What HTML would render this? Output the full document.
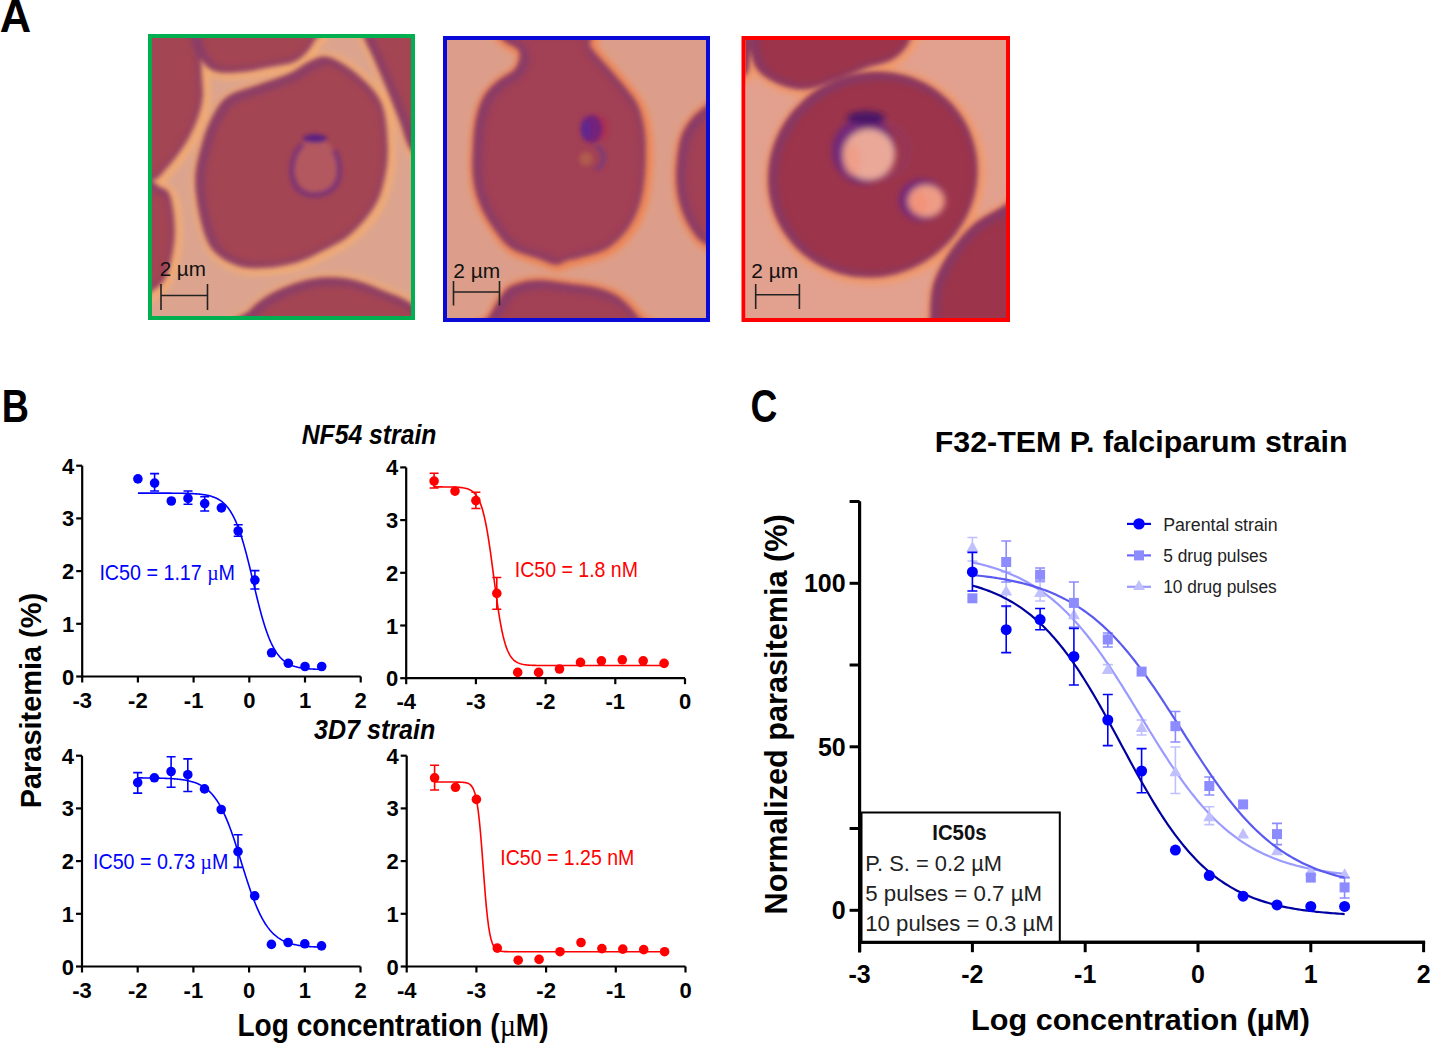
<!DOCTYPE html>
<html><head><meta charset="utf-8"><style>
html,body{margin:0;padding:0;background:#fff;}
body{width:1430px;height:1043px;overflow:hidden;}
svg{display:block;font-family:"Liberation Sans", sans-serif;}
</style></head><body>
<svg width="1430" height="1043" viewBox="0 0 1430 1043">
<defs>
<filter id="bl2" x="-20%" y="-20%" width="140%" height="140%"><feGaussianBlur stdDeviation="2"/></filter>
<filter id="bl3" x="-20%" y="-20%" width="140%" height="140%"><feGaussianBlur stdDeviation="3"/></filter>
<filter id="bl25" x="-20%" y="-20%" width="140%" height="140%"><feGaussianBlur stdDeviation="2.5"/></filter>
</defs>
<rect width="1430" height="1043" fill="#fff"/>

<text x="-0.32" y="32.4" font-size="47" font-weight="bold" font-style="normal" fill="#000" textLength="31.41" lengthAdjust="spacingAndGlyphs">A</text>
<text x="1.77" y="421.5" font-size="46.5" font-weight="bold" font-style="normal" fill="#000" textLength="27.22" lengthAdjust="spacingAndGlyphs">B</text>
<text x="750.60" y="421.9" font-size="46.5" font-weight="bold" font-style="normal" fill="#000" textLength="26.88" lengthAdjust="spacingAndGlyphs">C</text>
<clipPath id="clip1"><rect x="152" y="38" width="259" height="278"/></clipPath><g clip-path="url(#clip1)"><rect x="152" y="38" width="259" height="278" fill="#dca48e"/><g filter="url(#bl3)" transform="translate(2,1.5)"><path d="M329.0,58.0 C337.0,60.3 349.3,68.3 358.0,76.0 C366.7,83.7 376.2,92.3 381.0,104.0 C385.8,115.7 386.5,133.7 387.0,146.0 C387.5,158.3 386.2,168.0 384.0,178.0 C381.8,188.0 379.7,196.7 374.0,206.0 C368.3,215.3 358.8,226.5 350.0,234.0 C341.2,241.5 330.0,246.3 321.0,251.0 C312.0,255.7 305.2,259.3 296.0,262.0 C286.8,264.7 275.7,266.5 266.0,267.0 C256.3,267.5 246.8,268.0 238.0,265.0 C229.2,262.0 219.2,256.8 213.0,249.0 C206.8,241.2 203.8,229.8 201.0,218.0 C198.2,206.2 195.7,190.5 196.0,178.0 C196.3,165.5 200.2,153.2 203.0,143.0 C205.8,132.8 208.8,124.7 213.0,117.0 C217.2,109.3 220.7,102.2 228.0,97.0 C235.3,91.8 246.7,89.8 257.0,86.0 C267.3,82.2 281.2,78.0 290.0,74.0 C298.8,70.0 303.5,64.7 310.0,62.0 C316.5,59.3 321.0,55.7 329.0,58.0Z" fill="none" stroke="#f6ae70" stroke-width="12" opacity="0.9"/><path d="M120.0,20.0 C132.7,-5.0 182.7,15.0 196.0,20.0 C209.3,25.0 199.2,40.8 200.0,50.0 C200.8,59.2 200.7,67.2 201.0,75.0 C201.3,82.8 202.7,89.8 202.0,97.0 C201.3,104.2 199.8,110.3 197.0,118.0 C194.2,125.7 190.2,134.7 185.0,143.0 C179.8,151.3 171.8,161.8 166.0,168.0 C160.2,174.2 157.7,179.7 150.0,180.0 C142.3,180.3 125.0,196.7 120.0,170.0 C115.0,143.3 107.3,45.0 120.0,20.0Z" fill="none" stroke="#f6ae70" stroke-width="12" opacity="0.9"/><path d="M185.0,10.0 C175.0,15.2 187.2,27.7 190.0,36.0 C192.8,44.3 197.5,54.2 202.0,60.0 C206.5,65.8 210.0,69.2 217.0,71.0 C224.0,72.8 235.0,71.8 244.0,71.0 C253.0,70.2 263.0,67.5 271.0,66.0 C279.0,64.5 286.7,63.8 292.0,62.0 C297.3,60.2 299.5,58.3 303.0,55.0 C306.5,51.7 310.2,47.8 313.0,42.0 C315.8,36.2 330.5,26.2 320.0,20.0 C309.5,13.8 272.5,6.7 250.0,5.0 C227.5,3.3 195.0,4.8 185.0,10.0Z" fill="none" stroke="#f6ae70" stroke-width="12" opacity="0.9"/><path d="M362.0,20.0 C351.3,23.3 364.2,34.2 366.0,40.0 C367.8,45.8 369.7,47.5 373.0,55.0 C376.3,62.5 381.5,74.2 386.0,85.0 C390.5,95.8 395.7,109.2 400.0,120.0 C404.3,130.8 407.0,145.0 412.0,150.0 C417.0,155.0 427.0,171.7 430.0,150.0 C433.0,128.3 441.3,41.7 430.0,20.0 C418.7,-1.7 372.7,16.7 362.0,20.0Z" fill="none" stroke="#f6ae70" stroke-width="12" opacity="0.9"/><path d="M140.0,186.0 C143.3,169.0 155.0,186.0 160.0,188.0 C165.0,190.0 167.7,190.0 170.0,198.0 C172.3,206.0 174.7,223.2 174.0,236.0 C173.3,248.8 169.7,266.0 166.0,275.0 C162.3,284.0 156.3,287.5 152.0,290.0 C147.7,292.5 142.0,307.3 140.0,290.0 C138.0,272.7 136.7,203.0 140.0,186.0Z" fill="none" stroke="#f6ae70" stroke-width="12" opacity="0.9"/><path d="M240.0,330.0 C210.0,326.8 244.7,317.0 250.0,311.0 C255.3,305.0 263.3,298.8 272.0,294.0 C280.7,289.2 292.5,284.7 302.0,282.0 C311.5,279.3 320.2,278.2 329.0,278.0 C337.8,277.8 346.2,278.8 355.0,281.0 C363.8,283.2 372.5,287.0 382.0,291.0 C391.5,295.0 404.0,298.5 412.0,305.0 C420.0,311.5 458.7,325.8 430.0,330.0 C401.3,334.2 270.0,333.2 240.0,330.0Z" fill="none" stroke="#f6ae70" stroke-width="12" opacity="0.9"/></g><g filter="url(#bl2)"><path d="M329.0,58.0 C337.0,60.3 349.3,68.3 358.0,76.0 C366.7,83.7 376.2,92.3 381.0,104.0 C385.8,115.7 386.5,133.7 387.0,146.0 C387.5,158.3 386.2,168.0 384.0,178.0 C381.8,188.0 379.7,196.7 374.0,206.0 C368.3,215.3 358.8,226.5 350.0,234.0 C341.2,241.5 330.0,246.3 321.0,251.0 C312.0,255.7 305.2,259.3 296.0,262.0 C286.8,264.7 275.7,266.5 266.0,267.0 C256.3,267.5 246.8,268.0 238.0,265.0 C229.2,262.0 219.2,256.8 213.0,249.0 C206.8,241.2 203.8,229.8 201.0,218.0 C198.2,206.2 195.7,190.5 196.0,178.0 C196.3,165.5 200.2,153.2 203.0,143.0 C205.8,132.8 208.8,124.7 213.0,117.0 C217.2,109.3 220.7,102.2 228.0,97.0 C235.3,91.8 246.7,89.8 257.0,86.0 C267.3,82.2 281.2,78.0 290.0,74.0 C298.8,70.0 303.5,64.7 310.0,62.0 C316.5,59.3 321.0,55.7 329.0,58.0Z" fill="#a44453"/><path d="M120.0,20.0 C132.7,-5.0 182.7,15.0 196.0,20.0 C209.3,25.0 199.2,40.8 200.0,50.0 C200.8,59.2 200.7,67.2 201.0,75.0 C201.3,82.8 202.7,89.8 202.0,97.0 C201.3,104.2 199.8,110.3 197.0,118.0 C194.2,125.7 190.2,134.7 185.0,143.0 C179.8,151.3 171.8,161.8 166.0,168.0 C160.2,174.2 157.7,179.7 150.0,180.0 C142.3,180.3 125.0,196.7 120.0,170.0 C115.0,143.3 107.3,45.0 120.0,20.0Z" fill="#a44453"/><path d="M185.0,10.0 C175.0,15.2 187.2,27.7 190.0,36.0 C192.8,44.3 197.5,54.2 202.0,60.0 C206.5,65.8 210.0,69.2 217.0,71.0 C224.0,72.8 235.0,71.8 244.0,71.0 C253.0,70.2 263.0,67.5 271.0,66.0 C279.0,64.5 286.7,63.8 292.0,62.0 C297.3,60.2 299.5,58.3 303.0,55.0 C306.5,51.7 310.2,47.8 313.0,42.0 C315.8,36.2 330.5,26.2 320.0,20.0 C309.5,13.8 272.5,6.7 250.0,5.0 C227.5,3.3 195.0,4.8 185.0,10.0Z" fill="#a44453"/><path d="M362.0,20.0 C351.3,23.3 364.2,34.2 366.0,40.0 C367.8,45.8 369.7,47.5 373.0,55.0 C376.3,62.5 381.5,74.2 386.0,85.0 C390.5,95.8 395.7,109.2 400.0,120.0 C404.3,130.8 407.0,145.0 412.0,150.0 C417.0,155.0 427.0,171.7 430.0,150.0 C433.0,128.3 441.3,41.7 430.0,20.0 C418.7,-1.7 372.7,16.7 362.0,20.0Z" fill="#a44453"/><path d="M140.0,186.0 C143.3,169.0 155.0,186.0 160.0,188.0 C165.0,190.0 167.7,190.0 170.0,198.0 C172.3,206.0 174.7,223.2 174.0,236.0 C173.3,248.8 169.7,266.0 166.0,275.0 C162.3,284.0 156.3,287.5 152.0,290.0 C147.7,292.5 142.0,307.3 140.0,290.0 C138.0,272.7 136.7,203.0 140.0,186.0Z" fill="#a44453"/><path d="M240.0,330.0 C210.0,326.8 244.7,317.0 250.0,311.0 C255.3,305.0 263.3,298.8 272.0,294.0 C280.7,289.2 292.5,284.7 302.0,282.0 C311.5,279.3 320.2,278.2 329.0,278.0 C337.8,277.8 346.2,278.8 355.0,281.0 C363.8,283.2 372.5,287.0 382.0,291.0 C391.5,295.0 404.0,298.5 412.0,305.0 C420.0,311.5 458.7,325.8 430.0,330.0 C401.3,334.2 270.0,333.2 240.0,330.0Z" fill="#a44453"/></g><clipPath id="cc1"><path d="M329.0,58.0 C337.0,60.3 349.3,68.3 358.0,76.0 C366.7,83.7 376.2,92.3 381.0,104.0 C385.8,115.7 386.5,133.7 387.0,146.0 C387.5,158.3 386.2,168.0 384.0,178.0 C381.8,188.0 379.7,196.7 374.0,206.0 C368.3,215.3 358.8,226.5 350.0,234.0 C341.2,241.5 330.0,246.3 321.0,251.0 C312.0,255.7 305.2,259.3 296.0,262.0 C286.8,264.7 275.7,266.5 266.0,267.0 C256.3,267.5 246.8,268.0 238.0,265.0 C229.2,262.0 219.2,256.8 213.0,249.0 C206.8,241.2 203.8,229.8 201.0,218.0 C198.2,206.2 195.7,190.5 196.0,178.0 C196.3,165.5 200.2,153.2 203.0,143.0 C205.8,132.8 208.8,124.7 213.0,117.0 C217.2,109.3 220.7,102.2 228.0,97.0 C235.3,91.8 246.7,89.8 257.0,86.0 C267.3,82.2 281.2,78.0 290.0,74.0 C298.8,70.0 303.5,64.7 310.0,62.0 C316.5,59.3 321.0,55.7 329.0,58.0Z"/></clipPath><g filter="url(#bl3)" opacity="0.7"><g clip-path="url(#cc1)"><path transform="translate(2.5,1.5)" d="M329.0,58.0 C337.0,60.3 349.3,68.3 358.0,76.0 C366.7,83.7 376.2,92.3 381.0,104.0 C385.8,115.7 386.5,133.7 387.0,146.0 C387.5,158.3 386.2,168.0 384.0,178.0 C381.8,188.0 379.7,196.7 374.0,206.0 C368.3,215.3 358.8,226.5 350.0,234.0 C341.2,241.5 330.0,246.3 321.0,251.0 C312.0,255.7 305.2,259.3 296.0,262.0 C286.8,264.7 275.7,266.5 266.0,267.0 C256.3,267.5 246.8,268.0 238.0,265.0 C229.2,262.0 219.2,256.8 213.0,249.0 C206.8,241.2 203.8,229.8 201.0,218.0 C198.2,206.2 195.7,190.5 196.0,178.0 C196.3,165.5 200.2,153.2 203.0,143.0 C205.8,132.8 208.8,124.7 213.0,117.0 C217.2,109.3 220.7,102.2 228.0,97.0 C235.3,91.8 246.7,89.8 257.0,86.0 C267.3,82.2 281.2,78.0 290.0,74.0 C298.8,70.0 303.5,64.7 310.0,62.0 C316.5,59.3 321.0,55.7 329.0,58.0Z" fill="none" stroke="#7e3a72" stroke-width="12"/></g></g><clipPath id="cc2"><path d="M120.0,20.0 C132.7,-5.0 182.7,15.0 196.0,20.0 C209.3,25.0 199.2,40.8 200.0,50.0 C200.8,59.2 200.7,67.2 201.0,75.0 C201.3,82.8 202.7,89.8 202.0,97.0 C201.3,104.2 199.8,110.3 197.0,118.0 C194.2,125.7 190.2,134.7 185.0,143.0 C179.8,151.3 171.8,161.8 166.0,168.0 C160.2,174.2 157.7,179.7 150.0,180.0 C142.3,180.3 125.0,196.7 120.0,170.0 C115.0,143.3 107.3,45.0 120.0,20.0Z"/></clipPath><g filter="url(#bl3)" opacity="0.7"><g clip-path="url(#cc2)"><path transform="translate(2.5,1.5)" d="M120.0,20.0 C132.7,-5.0 182.7,15.0 196.0,20.0 C209.3,25.0 199.2,40.8 200.0,50.0 C200.8,59.2 200.7,67.2 201.0,75.0 C201.3,82.8 202.7,89.8 202.0,97.0 C201.3,104.2 199.8,110.3 197.0,118.0 C194.2,125.7 190.2,134.7 185.0,143.0 C179.8,151.3 171.8,161.8 166.0,168.0 C160.2,174.2 157.7,179.7 150.0,180.0 C142.3,180.3 125.0,196.7 120.0,170.0 C115.0,143.3 107.3,45.0 120.0,20.0Z" fill="none" stroke="#7e3a72" stroke-width="12"/></g></g><clipPath id="cc3"><path d="M185.0,10.0 C175.0,15.2 187.2,27.7 190.0,36.0 C192.8,44.3 197.5,54.2 202.0,60.0 C206.5,65.8 210.0,69.2 217.0,71.0 C224.0,72.8 235.0,71.8 244.0,71.0 C253.0,70.2 263.0,67.5 271.0,66.0 C279.0,64.5 286.7,63.8 292.0,62.0 C297.3,60.2 299.5,58.3 303.0,55.0 C306.5,51.7 310.2,47.8 313.0,42.0 C315.8,36.2 330.5,26.2 320.0,20.0 C309.5,13.8 272.5,6.7 250.0,5.0 C227.5,3.3 195.0,4.8 185.0,10.0Z"/></clipPath><g filter="url(#bl3)" opacity="0.7"><g clip-path="url(#cc3)"><path transform="translate(2.5,1.5)" d="M185.0,10.0 C175.0,15.2 187.2,27.7 190.0,36.0 C192.8,44.3 197.5,54.2 202.0,60.0 C206.5,65.8 210.0,69.2 217.0,71.0 C224.0,72.8 235.0,71.8 244.0,71.0 C253.0,70.2 263.0,67.5 271.0,66.0 C279.0,64.5 286.7,63.8 292.0,62.0 C297.3,60.2 299.5,58.3 303.0,55.0 C306.5,51.7 310.2,47.8 313.0,42.0 C315.8,36.2 330.5,26.2 320.0,20.0 C309.5,13.8 272.5,6.7 250.0,5.0 C227.5,3.3 195.0,4.8 185.0,10.0Z" fill="none" stroke="#7e3a72" stroke-width="12"/></g></g><clipPath id="cc4"><path d="M362.0,20.0 C351.3,23.3 364.2,34.2 366.0,40.0 C367.8,45.8 369.7,47.5 373.0,55.0 C376.3,62.5 381.5,74.2 386.0,85.0 C390.5,95.8 395.7,109.2 400.0,120.0 C404.3,130.8 407.0,145.0 412.0,150.0 C417.0,155.0 427.0,171.7 430.0,150.0 C433.0,128.3 441.3,41.7 430.0,20.0 C418.7,-1.7 372.7,16.7 362.0,20.0Z"/></clipPath><g filter="url(#bl3)" opacity="0.7"><g clip-path="url(#cc4)"><path transform="translate(2.5,1.5)" d="M362.0,20.0 C351.3,23.3 364.2,34.2 366.0,40.0 C367.8,45.8 369.7,47.5 373.0,55.0 C376.3,62.5 381.5,74.2 386.0,85.0 C390.5,95.8 395.7,109.2 400.0,120.0 C404.3,130.8 407.0,145.0 412.0,150.0 C417.0,155.0 427.0,171.7 430.0,150.0 C433.0,128.3 441.3,41.7 430.0,20.0 C418.7,-1.7 372.7,16.7 362.0,20.0Z" fill="none" stroke="#7e3a72" stroke-width="12"/></g></g><clipPath id="cc5"><path d="M140.0,186.0 C143.3,169.0 155.0,186.0 160.0,188.0 C165.0,190.0 167.7,190.0 170.0,198.0 C172.3,206.0 174.7,223.2 174.0,236.0 C173.3,248.8 169.7,266.0 166.0,275.0 C162.3,284.0 156.3,287.5 152.0,290.0 C147.7,292.5 142.0,307.3 140.0,290.0 C138.0,272.7 136.7,203.0 140.0,186.0Z"/></clipPath><g filter="url(#bl3)" opacity="0.7"><g clip-path="url(#cc5)"><path transform="translate(2.5,1.5)" d="M140.0,186.0 C143.3,169.0 155.0,186.0 160.0,188.0 C165.0,190.0 167.7,190.0 170.0,198.0 C172.3,206.0 174.7,223.2 174.0,236.0 C173.3,248.8 169.7,266.0 166.0,275.0 C162.3,284.0 156.3,287.5 152.0,290.0 C147.7,292.5 142.0,307.3 140.0,290.0 C138.0,272.7 136.7,203.0 140.0,186.0Z" fill="none" stroke="#7e3a72" stroke-width="12"/></g></g><clipPath id="cc6"><path d="M240.0,330.0 C210.0,326.8 244.7,317.0 250.0,311.0 C255.3,305.0 263.3,298.8 272.0,294.0 C280.7,289.2 292.5,284.7 302.0,282.0 C311.5,279.3 320.2,278.2 329.0,278.0 C337.8,277.8 346.2,278.8 355.0,281.0 C363.8,283.2 372.5,287.0 382.0,291.0 C391.5,295.0 404.0,298.5 412.0,305.0 C420.0,311.5 458.7,325.8 430.0,330.0 C401.3,334.2 270.0,333.2 240.0,330.0Z"/></clipPath><g filter="url(#bl3)" opacity="0.7"><g clip-path="url(#cc6)"><path transform="translate(2.5,1.5)" d="M240.0,330.0 C210.0,326.8 244.7,317.0 250.0,311.0 C255.3,305.0 263.3,298.8 272.0,294.0 C280.7,289.2 292.5,284.7 302.0,282.0 C311.5,279.3 320.2,278.2 329.0,278.0 C337.8,277.8 346.2,278.8 355.0,281.0 C363.8,283.2 372.5,287.0 382.0,291.0 C391.5,295.0 404.0,298.5 412.0,305.0 C420.0,311.5 458.7,325.8 430.0,330.0 C401.3,334.2 270.0,333.2 240.0,330.0Z" fill="none" stroke="#7e3a72" stroke-width="12"/></g></g><g filter="url(#bl2)"><ellipse cx="316" cy="166" rx="22" ry="27" fill="#b4585e"/><path d="M303,144 C290,155 289,178 297,188 C305,197 325,198 335,186 C342,176 340,160 334,150" fill="none" stroke="#7a3478" stroke-width="6" opacity="0.85"/><ellipse cx="315" cy="138.5" rx="12" ry="4.5" fill="#5c2480"/></g></g><rect x="150" y="36" width="263" height="282" fill="none" stroke="#00b050" stroke-width="4"/><text x="159.67" y="276" font-size="20" font-weight="normal" font-style="normal" fill="#111" textLength="46.23" lengthAdjust="spacingAndGlyphs">2 µm</text><path d="M161,284V310M207.5,284V310M161,295.5H207.5" stroke="#222" stroke-width="1.6" fill="none"/>
<clipPath id="clip2"><rect x="447" y="40" width="259" height="278"/></clipPath><g clip-path="url(#clip2)"><rect x="447" y="40" width="259" height="278" fill="#dc9e8a"/><g filter="url(#bl3)" transform="translate(2,1.5)"><path d="M504.0,30.0 C490.7,31.7 501.3,36.5 504.0,40.0 C506.7,43.5 518.0,46.2 520.0,51.0 C522.0,55.8 519.5,64.0 516.0,69.0 C512.5,74.0 504.2,76.5 499.0,81.0 C493.8,85.5 488.7,89.8 485.0,96.0 C481.3,102.2 478.8,109.8 477.0,118.0 C475.2,126.2 474.5,135.0 474.0,145.0 C473.5,155.0 472.8,168.0 474.0,178.0 C475.2,188.0 477.5,196.5 481.0,205.0 C484.5,213.5 489.8,221.8 495.0,229.0 C500.2,236.2 504.7,243.2 512.0,248.0 C519.3,252.8 531.7,255.3 539.0,258.0 C546.3,260.7 551.3,263.7 556.0,264.0 C560.7,264.3 563.0,261.2 567.0,260.0 C571.0,258.8 573.3,259.0 580.0,257.0 C586.7,255.0 599.2,252.7 607.0,248.0 C614.8,243.3 621.7,236.2 627.0,229.0 C632.3,221.8 636.2,213.5 639.0,205.0 C641.8,196.5 643.0,188.0 644.0,178.0 C645.0,168.0 645.2,153.8 645.0,145.0 C644.8,136.2 644.3,131.7 643.0,125.0 C641.7,118.3 640.0,111.2 637.0,105.0 C634.0,98.8 630.0,94.3 625.0,88.0 C620.0,81.7 612.8,73.8 607.0,67.0 C601.2,60.2 593.8,53.2 590.0,47.0 C586.2,40.8 598.3,32.8 584.0,30.0 C569.7,27.2 517.3,28.3 504.0,30.0Z" fill="none" stroke="#f2864f" stroke-width="12" opacity="0.9"/><path d="M735.0,95.0 C730.0,71.3 712.8,103.0 705.0,108.0 C697.2,113.0 692.2,118.8 688.0,125.0 C683.8,131.2 681.8,136.2 680.0,145.0 C678.2,153.8 676.8,168.0 677.0,178.0 C677.2,188.0 678.5,196.5 681.0,205.0 C683.5,213.5 687.8,222.7 692.0,229.0 C696.2,235.3 698.8,239.5 706.0,243.0 C713.2,246.5 730.2,274.7 735.0,250.0 C739.8,225.3 740.0,118.7 735.0,95.0Z" fill="none" stroke="#f2864f" stroke-width="12" opacity="0.9"/><path d="M480.0,330.0 C454.0,328.0 484.8,324.3 489.0,318.0 C493.2,311.7 500.0,297.7 505.0,292.0 C510.0,286.3 513.3,285.8 519.0,284.0 C524.7,282.2 531.2,281.0 539.0,281.0 C546.8,281.0 556.8,282.8 566.0,284.0 C575.2,285.2 586.0,286.2 594.0,288.0 C602.0,289.8 608.5,292.2 614.0,295.0 C619.5,297.8 623.0,301.2 627.0,305.0 C631.0,308.8 635.0,313.8 638.0,318.0 C641.0,322.2 671.3,328.0 645.0,330.0 C618.7,332.0 506.0,332.0 480.0,330.0Z" fill="none" stroke="#f2864f" stroke-width="12" opacity="0.9"/></g><g filter="url(#bl2)"><path d="M504.0,30.0 C490.7,31.7 501.3,36.5 504.0,40.0 C506.7,43.5 518.0,46.2 520.0,51.0 C522.0,55.8 519.5,64.0 516.0,69.0 C512.5,74.0 504.2,76.5 499.0,81.0 C493.8,85.5 488.7,89.8 485.0,96.0 C481.3,102.2 478.8,109.8 477.0,118.0 C475.2,126.2 474.5,135.0 474.0,145.0 C473.5,155.0 472.8,168.0 474.0,178.0 C475.2,188.0 477.5,196.5 481.0,205.0 C484.5,213.5 489.8,221.8 495.0,229.0 C500.2,236.2 504.7,243.2 512.0,248.0 C519.3,252.8 531.7,255.3 539.0,258.0 C546.3,260.7 551.3,263.7 556.0,264.0 C560.7,264.3 563.0,261.2 567.0,260.0 C571.0,258.8 573.3,259.0 580.0,257.0 C586.7,255.0 599.2,252.7 607.0,248.0 C614.8,243.3 621.7,236.2 627.0,229.0 C632.3,221.8 636.2,213.5 639.0,205.0 C641.8,196.5 643.0,188.0 644.0,178.0 C645.0,168.0 645.2,153.8 645.0,145.0 C644.8,136.2 644.3,131.7 643.0,125.0 C641.7,118.3 640.0,111.2 637.0,105.0 C634.0,98.8 630.0,94.3 625.0,88.0 C620.0,81.7 612.8,73.8 607.0,67.0 C601.2,60.2 593.8,53.2 590.0,47.0 C586.2,40.8 598.3,32.8 584.0,30.0 C569.7,27.2 517.3,28.3 504.0,30.0Z" fill="#a23f55"/><path d="M735.0,95.0 C730.0,71.3 712.8,103.0 705.0,108.0 C697.2,113.0 692.2,118.8 688.0,125.0 C683.8,131.2 681.8,136.2 680.0,145.0 C678.2,153.8 676.8,168.0 677.0,178.0 C677.2,188.0 678.5,196.5 681.0,205.0 C683.5,213.5 687.8,222.7 692.0,229.0 C696.2,235.3 698.8,239.5 706.0,243.0 C713.2,246.5 730.2,274.7 735.0,250.0 C739.8,225.3 740.0,118.7 735.0,95.0Z" fill="#a23f55"/><path d="M480.0,330.0 C454.0,328.0 484.8,324.3 489.0,318.0 C493.2,311.7 500.0,297.7 505.0,292.0 C510.0,286.3 513.3,285.8 519.0,284.0 C524.7,282.2 531.2,281.0 539.0,281.0 C546.8,281.0 556.8,282.8 566.0,284.0 C575.2,285.2 586.0,286.2 594.0,288.0 C602.0,289.8 608.5,292.2 614.0,295.0 C619.5,297.8 623.0,301.2 627.0,305.0 C631.0,308.8 635.0,313.8 638.0,318.0 C641.0,322.2 671.3,328.0 645.0,330.0 C618.7,332.0 506.0,332.0 480.0,330.0Z" fill="#a23f55"/></g><clipPath id="cc7"><path d="M504.0,30.0 C490.7,31.7 501.3,36.5 504.0,40.0 C506.7,43.5 518.0,46.2 520.0,51.0 C522.0,55.8 519.5,64.0 516.0,69.0 C512.5,74.0 504.2,76.5 499.0,81.0 C493.8,85.5 488.7,89.8 485.0,96.0 C481.3,102.2 478.8,109.8 477.0,118.0 C475.2,126.2 474.5,135.0 474.0,145.0 C473.5,155.0 472.8,168.0 474.0,178.0 C475.2,188.0 477.5,196.5 481.0,205.0 C484.5,213.5 489.8,221.8 495.0,229.0 C500.2,236.2 504.7,243.2 512.0,248.0 C519.3,252.8 531.7,255.3 539.0,258.0 C546.3,260.7 551.3,263.7 556.0,264.0 C560.7,264.3 563.0,261.2 567.0,260.0 C571.0,258.8 573.3,259.0 580.0,257.0 C586.7,255.0 599.2,252.7 607.0,248.0 C614.8,243.3 621.7,236.2 627.0,229.0 C632.3,221.8 636.2,213.5 639.0,205.0 C641.8,196.5 643.0,188.0 644.0,178.0 C645.0,168.0 645.2,153.8 645.0,145.0 C644.8,136.2 644.3,131.7 643.0,125.0 C641.7,118.3 640.0,111.2 637.0,105.0 C634.0,98.8 630.0,94.3 625.0,88.0 C620.0,81.7 612.8,73.8 607.0,67.0 C601.2,60.2 593.8,53.2 590.0,47.0 C586.2,40.8 598.3,32.8 584.0,30.0 C569.7,27.2 517.3,28.3 504.0,30.0Z"/></clipPath><g filter="url(#bl3)" opacity="0.7"><g clip-path="url(#cc7)"><path transform="translate(2.5,1.5)" d="M504.0,30.0 C490.7,31.7 501.3,36.5 504.0,40.0 C506.7,43.5 518.0,46.2 520.0,51.0 C522.0,55.8 519.5,64.0 516.0,69.0 C512.5,74.0 504.2,76.5 499.0,81.0 C493.8,85.5 488.7,89.8 485.0,96.0 C481.3,102.2 478.8,109.8 477.0,118.0 C475.2,126.2 474.5,135.0 474.0,145.0 C473.5,155.0 472.8,168.0 474.0,178.0 C475.2,188.0 477.5,196.5 481.0,205.0 C484.5,213.5 489.8,221.8 495.0,229.0 C500.2,236.2 504.7,243.2 512.0,248.0 C519.3,252.8 531.7,255.3 539.0,258.0 C546.3,260.7 551.3,263.7 556.0,264.0 C560.7,264.3 563.0,261.2 567.0,260.0 C571.0,258.8 573.3,259.0 580.0,257.0 C586.7,255.0 599.2,252.7 607.0,248.0 C614.8,243.3 621.7,236.2 627.0,229.0 C632.3,221.8 636.2,213.5 639.0,205.0 C641.8,196.5 643.0,188.0 644.0,178.0 C645.0,168.0 645.2,153.8 645.0,145.0 C644.8,136.2 644.3,131.7 643.0,125.0 C641.7,118.3 640.0,111.2 637.0,105.0 C634.0,98.8 630.0,94.3 625.0,88.0 C620.0,81.7 612.8,73.8 607.0,67.0 C601.2,60.2 593.8,53.2 590.0,47.0 C586.2,40.8 598.3,32.8 584.0,30.0 C569.7,27.2 517.3,28.3 504.0,30.0Z" fill="none" stroke="#7e3a72" stroke-width="12"/></g></g><clipPath id="cc8"><path d="M735.0,95.0 C730.0,71.3 712.8,103.0 705.0,108.0 C697.2,113.0 692.2,118.8 688.0,125.0 C683.8,131.2 681.8,136.2 680.0,145.0 C678.2,153.8 676.8,168.0 677.0,178.0 C677.2,188.0 678.5,196.5 681.0,205.0 C683.5,213.5 687.8,222.7 692.0,229.0 C696.2,235.3 698.8,239.5 706.0,243.0 C713.2,246.5 730.2,274.7 735.0,250.0 C739.8,225.3 740.0,118.7 735.0,95.0Z"/></clipPath><g filter="url(#bl3)" opacity="0.7"><g clip-path="url(#cc8)"><path transform="translate(2.5,1.5)" d="M735.0,95.0 C730.0,71.3 712.8,103.0 705.0,108.0 C697.2,113.0 692.2,118.8 688.0,125.0 C683.8,131.2 681.8,136.2 680.0,145.0 C678.2,153.8 676.8,168.0 677.0,178.0 C677.2,188.0 678.5,196.5 681.0,205.0 C683.5,213.5 687.8,222.7 692.0,229.0 C696.2,235.3 698.8,239.5 706.0,243.0 C713.2,246.5 730.2,274.7 735.0,250.0 C739.8,225.3 740.0,118.7 735.0,95.0Z" fill="none" stroke="#7e3a72" stroke-width="12"/></g></g><clipPath id="cc9"><path d="M480.0,330.0 C454.0,328.0 484.8,324.3 489.0,318.0 C493.2,311.7 500.0,297.7 505.0,292.0 C510.0,286.3 513.3,285.8 519.0,284.0 C524.7,282.2 531.2,281.0 539.0,281.0 C546.8,281.0 556.8,282.8 566.0,284.0 C575.2,285.2 586.0,286.2 594.0,288.0 C602.0,289.8 608.5,292.2 614.0,295.0 C619.5,297.8 623.0,301.2 627.0,305.0 C631.0,308.8 635.0,313.8 638.0,318.0 C641.0,322.2 671.3,328.0 645.0,330.0 C618.7,332.0 506.0,332.0 480.0,330.0Z"/></clipPath><g filter="url(#bl3)" opacity="0.7"><g clip-path="url(#cc9)"><path transform="translate(2.5,1.5)" d="M480.0,330.0 C454.0,328.0 484.8,324.3 489.0,318.0 C493.2,311.7 500.0,297.7 505.0,292.0 C510.0,286.3 513.3,285.8 519.0,284.0 C524.7,282.2 531.2,281.0 539.0,281.0 C546.8,281.0 556.8,282.8 566.0,284.0 C575.2,285.2 586.0,286.2 594.0,288.0 C602.0,289.8 608.5,292.2 614.0,295.0 C619.5,297.8 623.0,301.2 627.0,305.0 C631.0,308.8 635.0,313.8 638.0,318.0 C641.0,322.2 671.3,328.0 645.0,330.0 C618.7,332.0 506.0,332.0 480.0,330.0Z" fill="none" stroke="#7e3a72" stroke-width="12"/></g></g><g filter="url(#bl2)"><ellipse cx="598" cy="128" rx="10" ry="13" fill="#b0284a" opacity="0.7"/><ellipse cx="591.5" cy="129" rx="11" ry="14" fill="#74207a"/><ellipse cx="586" cy="129" rx="5" ry="10" fill="#5a2a98" opacity="0.7"/><path d="M596,146 C606,150 606,166 596,169" fill="none" stroke="#6a3a8a" stroke-width="4" opacity="0.8"/><ellipse cx="586" cy="159" rx="7" ry="7" fill="#b4604a" opacity="0.8"/></g></g><rect x="445" y="38" width="263" height="282" fill="none" stroke="#0a0ad8" stroke-width="4"/><text x="453.35" y="278" font-size="20" font-weight="normal" font-style="normal" fill="#111" textLength="46.96" lengthAdjust="spacingAndGlyphs">2 µm</text><path d="M453.5,281V305.5M499.5,281V305.5M453.5,292H499.5" stroke="#222" stroke-width="1.6" fill="none"/>
<clipPath id="clip3"><rect x="745.5" y="40" width="260.5" height="278"/></clipPath><g clip-path="url(#clip3)"><rect x="745.5" y="40" width="260.5" height="278" fill="#e2a08e"/><g filter="url(#bl3)" transform="translate(2,1.5)"><path d="M927.8,259.1 C922.7,262.4 917.3,265.4 911.7,267.8 C906.1,270.2 900.2,272.2 894.3,273.7 C888.4,275.1 882.3,276.1 876.3,276.5 C870.3,276.9 864.2,276.9 858.2,276.3 C852.2,275.7 846.3,274.5 840.5,272.9 C834.8,271.3 829.2,269.2 823.8,266.6 C818.5,264.0 813.4,261.0 808.7,257.5 C803.9,254.0 799.4,250.1 795.4,245.9 C791.4,241.6 787.7,236.9 784.5,232.1 C781.4,227.2 778.6,221.9 776.3,216.5 C774.1,211.1 772.3,205.4 771.1,199.7 C769.8,194.0 769.1,188.0 768.9,182.1 C768.7,176.2 769.0,170.2 769.9,164.3 C770.7,158.4 772.1,152.5 774.0,146.8 C775.9,141.1 778.3,135.5 781.1,130.1 C784.0,124.8 787.3,119.6 791.0,114.8 C794.8,110.0 799.0,105.5 803.4,101.4 C807.9,97.2 812.8,93.4 818.0,90.1 C823.1,86.8 828.5,83.8 834.1,81.4 C839.7,79.0 845.6,77.0 851.5,75.5 C857.4,74.1 863.5,73.1 869.5,72.7 C875.5,72.3 881.6,72.3 887.6,72.9 C893.6,73.5 899.5,74.7 905.3,76.3 C911.0,77.9 916.6,80.0 922.0,82.6 C927.3,85.2 932.4,88.2 937.1,91.7 C941.9,95.2 946.4,99.1 950.4,103.3 C954.4,107.6 958.1,112.3 961.3,117.1 C964.4,122.0 967.2,127.3 969.5,132.7 C971.7,138.1 973.5,143.8 974.7,149.5 C976.0,155.2 976.7,161.2 976.9,167.1 C977.1,173.0 976.8,179.0 975.9,184.9 C975.1,190.8 973.7,196.7 971.8,202.4 C969.9,208.1 967.5,213.7 964.7,219.1 C961.8,224.4 958.5,229.6 954.8,234.4 C951.0,239.2 946.8,243.7 942.4,247.8 C937.9,252.0 933.0,255.8 927.8,259.1Z" fill="none" stroke="#f49a66" stroke-width="12" opacity="0.9"/><path d="M750.0,20.0 C736.7,25.0 749.0,32.3 750.0,40.0 C751.0,47.7 752.3,59.3 756.0,66.0 C759.7,72.7 765.5,76.3 772.0,80.0 C778.5,83.7 787.8,86.8 795.0,88.0 C802.2,89.2 807.5,88.7 815.0,87.0 C822.5,85.3 831.3,81.3 840.0,78.0 C848.7,74.7 858.7,70.0 867.0,67.0 C875.3,64.0 884.0,62.8 890.0,60.0 C896.0,57.2 899.7,53.7 903.0,50.0 C906.3,46.3 908.2,43.0 910.0,38.0 C911.8,33.0 927.3,24.7 914.0,20.0 C900.7,15.3 857.3,10.0 830.0,10.0 C802.7,10.0 763.3,15.0 750.0,20.0Z" fill="none" stroke="#f49a66" stroke-width="12" opacity="0.9"/><path d="M1030.0,190.0 C1025.8,169.3 1014.3,200.2 1005.0,206.0 C995.7,211.8 983.2,217.2 974.0,225.0 C964.8,232.8 956.7,243.0 950.0,253.0 C943.3,263.0 937.2,274.2 934.0,285.0 C930.8,295.8 931.3,310.5 931.0,318.0 C930.7,325.5 915.5,328.0 932.0,330.0 C948.5,332.0 1013.7,353.3 1030.0,330.0 C1046.3,306.7 1034.2,210.7 1030.0,190.0Z" fill="none" stroke="#f49a66" stroke-width="12" opacity="0.9"/><path d="M720.0,30.0 C724.7,23.8 743.2,33.0 748.0,38.0 C752.8,43.0 749.7,53.8 749.0,60.0 C748.3,66.2 748.8,72.5 744.0,75.0 C739.2,77.5 724.0,82.5 720.0,75.0 C716.0,67.5 715.3,36.2 720.0,30.0Z" fill="none" stroke="#f49a66" stroke-width="12" opacity="0.9"/></g><g filter="url(#bl2)"><path d="M927.8,259.1 C922.7,262.4 917.3,265.4 911.7,267.8 C906.1,270.2 900.2,272.2 894.3,273.7 C888.4,275.1 882.3,276.1 876.3,276.5 C870.3,276.9 864.2,276.9 858.2,276.3 C852.2,275.7 846.3,274.5 840.5,272.9 C834.8,271.3 829.2,269.2 823.8,266.6 C818.5,264.0 813.4,261.0 808.7,257.5 C803.9,254.0 799.4,250.1 795.4,245.9 C791.4,241.6 787.7,236.9 784.5,232.1 C781.4,227.2 778.6,221.9 776.3,216.5 C774.1,211.1 772.3,205.4 771.1,199.7 C769.8,194.0 769.1,188.0 768.9,182.1 C768.7,176.2 769.0,170.2 769.9,164.3 C770.7,158.4 772.1,152.5 774.0,146.8 C775.9,141.1 778.3,135.5 781.1,130.1 C784.0,124.8 787.3,119.6 791.0,114.8 C794.8,110.0 799.0,105.5 803.4,101.4 C807.9,97.2 812.8,93.4 818.0,90.1 C823.1,86.8 828.5,83.8 834.1,81.4 C839.7,79.0 845.6,77.0 851.5,75.5 C857.4,74.1 863.5,73.1 869.5,72.7 C875.5,72.3 881.6,72.3 887.6,72.9 C893.6,73.5 899.5,74.7 905.3,76.3 C911.0,77.9 916.6,80.0 922.0,82.6 C927.3,85.2 932.4,88.2 937.1,91.7 C941.9,95.2 946.4,99.1 950.4,103.3 C954.4,107.6 958.1,112.3 961.3,117.1 C964.4,122.0 967.2,127.3 969.5,132.7 C971.7,138.1 973.5,143.8 974.7,149.5 C976.0,155.2 976.7,161.2 976.9,167.1 C977.1,173.0 976.8,179.0 975.9,184.9 C975.1,190.8 973.7,196.7 971.8,202.4 C969.9,208.1 967.5,213.7 964.7,219.1 C961.8,224.4 958.5,229.6 954.8,234.4 C951.0,239.2 946.8,243.7 942.4,247.8 C937.9,252.0 933.0,255.8 927.8,259.1Z" fill="#9c344c"/><path d="M750.0,20.0 C736.7,25.0 749.0,32.3 750.0,40.0 C751.0,47.7 752.3,59.3 756.0,66.0 C759.7,72.7 765.5,76.3 772.0,80.0 C778.5,83.7 787.8,86.8 795.0,88.0 C802.2,89.2 807.5,88.7 815.0,87.0 C822.5,85.3 831.3,81.3 840.0,78.0 C848.7,74.7 858.7,70.0 867.0,67.0 C875.3,64.0 884.0,62.8 890.0,60.0 C896.0,57.2 899.7,53.7 903.0,50.0 C906.3,46.3 908.2,43.0 910.0,38.0 C911.8,33.0 927.3,24.7 914.0,20.0 C900.7,15.3 857.3,10.0 830.0,10.0 C802.7,10.0 763.3,15.0 750.0,20.0Z" fill="#9c344c"/><path d="M1030.0,190.0 C1025.8,169.3 1014.3,200.2 1005.0,206.0 C995.7,211.8 983.2,217.2 974.0,225.0 C964.8,232.8 956.7,243.0 950.0,253.0 C943.3,263.0 937.2,274.2 934.0,285.0 C930.8,295.8 931.3,310.5 931.0,318.0 C930.7,325.5 915.5,328.0 932.0,330.0 C948.5,332.0 1013.7,353.3 1030.0,330.0 C1046.3,306.7 1034.2,210.7 1030.0,190.0Z" fill="#9c344c"/><path d="M720.0,30.0 C724.7,23.8 743.2,33.0 748.0,38.0 C752.8,43.0 749.7,53.8 749.0,60.0 C748.3,66.2 748.8,72.5 744.0,75.0 C739.2,77.5 724.0,82.5 720.0,75.0 C716.0,67.5 715.3,36.2 720.0,30.0Z" fill="#9c344c"/></g><clipPath id="cc10"><path d="M927.8,259.1 C922.7,262.4 917.3,265.4 911.7,267.8 C906.1,270.2 900.2,272.2 894.3,273.7 C888.4,275.1 882.3,276.1 876.3,276.5 C870.3,276.9 864.2,276.9 858.2,276.3 C852.2,275.7 846.3,274.5 840.5,272.9 C834.8,271.3 829.2,269.2 823.8,266.6 C818.5,264.0 813.4,261.0 808.7,257.5 C803.9,254.0 799.4,250.1 795.4,245.9 C791.4,241.6 787.7,236.9 784.5,232.1 C781.4,227.2 778.6,221.9 776.3,216.5 C774.1,211.1 772.3,205.4 771.1,199.7 C769.8,194.0 769.1,188.0 768.9,182.1 C768.7,176.2 769.0,170.2 769.9,164.3 C770.7,158.4 772.1,152.5 774.0,146.8 C775.9,141.1 778.3,135.5 781.1,130.1 C784.0,124.8 787.3,119.6 791.0,114.8 C794.8,110.0 799.0,105.5 803.4,101.4 C807.9,97.2 812.8,93.4 818.0,90.1 C823.1,86.8 828.5,83.8 834.1,81.4 C839.7,79.0 845.6,77.0 851.5,75.5 C857.4,74.1 863.5,73.1 869.5,72.7 C875.5,72.3 881.6,72.3 887.6,72.9 C893.6,73.5 899.5,74.7 905.3,76.3 C911.0,77.9 916.6,80.0 922.0,82.6 C927.3,85.2 932.4,88.2 937.1,91.7 C941.9,95.2 946.4,99.1 950.4,103.3 C954.4,107.6 958.1,112.3 961.3,117.1 C964.4,122.0 967.2,127.3 969.5,132.7 C971.7,138.1 973.5,143.8 974.7,149.5 C976.0,155.2 976.7,161.2 976.9,167.1 C977.1,173.0 976.8,179.0 975.9,184.9 C975.1,190.8 973.7,196.7 971.8,202.4 C969.9,208.1 967.5,213.7 964.7,219.1 C961.8,224.4 958.5,229.6 954.8,234.4 C951.0,239.2 946.8,243.7 942.4,247.8 C937.9,252.0 933.0,255.8 927.8,259.1Z"/></clipPath><g filter="url(#bl3)" opacity="0.7"><g clip-path="url(#cc10)"><path transform="translate(2.5,1.5)" d="M927.8,259.1 C922.7,262.4 917.3,265.4 911.7,267.8 C906.1,270.2 900.2,272.2 894.3,273.7 C888.4,275.1 882.3,276.1 876.3,276.5 C870.3,276.9 864.2,276.9 858.2,276.3 C852.2,275.7 846.3,274.5 840.5,272.9 C834.8,271.3 829.2,269.2 823.8,266.6 C818.5,264.0 813.4,261.0 808.7,257.5 C803.9,254.0 799.4,250.1 795.4,245.9 C791.4,241.6 787.7,236.9 784.5,232.1 C781.4,227.2 778.6,221.9 776.3,216.5 C774.1,211.1 772.3,205.4 771.1,199.7 C769.8,194.0 769.1,188.0 768.9,182.1 C768.7,176.2 769.0,170.2 769.9,164.3 C770.7,158.4 772.1,152.5 774.0,146.8 C775.9,141.1 778.3,135.5 781.1,130.1 C784.0,124.8 787.3,119.6 791.0,114.8 C794.8,110.0 799.0,105.5 803.4,101.4 C807.9,97.2 812.8,93.4 818.0,90.1 C823.1,86.8 828.5,83.8 834.1,81.4 C839.7,79.0 845.6,77.0 851.5,75.5 C857.4,74.1 863.5,73.1 869.5,72.7 C875.5,72.3 881.6,72.3 887.6,72.9 C893.6,73.5 899.5,74.7 905.3,76.3 C911.0,77.9 916.6,80.0 922.0,82.6 C927.3,85.2 932.4,88.2 937.1,91.7 C941.9,95.2 946.4,99.1 950.4,103.3 C954.4,107.6 958.1,112.3 961.3,117.1 C964.4,122.0 967.2,127.3 969.5,132.7 C971.7,138.1 973.5,143.8 974.7,149.5 C976.0,155.2 976.7,161.2 976.9,167.1 C977.1,173.0 976.8,179.0 975.9,184.9 C975.1,190.8 973.7,196.7 971.8,202.4 C969.9,208.1 967.5,213.7 964.7,219.1 C961.8,224.4 958.5,229.6 954.8,234.4 C951.0,239.2 946.8,243.7 942.4,247.8 C937.9,252.0 933.0,255.8 927.8,259.1Z" fill="none" stroke="#7e3a72" stroke-width="12"/></g></g><clipPath id="cc11"><path d="M750.0,20.0 C736.7,25.0 749.0,32.3 750.0,40.0 C751.0,47.7 752.3,59.3 756.0,66.0 C759.7,72.7 765.5,76.3 772.0,80.0 C778.5,83.7 787.8,86.8 795.0,88.0 C802.2,89.2 807.5,88.7 815.0,87.0 C822.5,85.3 831.3,81.3 840.0,78.0 C848.7,74.7 858.7,70.0 867.0,67.0 C875.3,64.0 884.0,62.8 890.0,60.0 C896.0,57.2 899.7,53.7 903.0,50.0 C906.3,46.3 908.2,43.0 910.0,38.0 C911.8,33.0 927.3,24.7 914.0,20.0 C900.7,15.3 857.3,10.0 830.0,10.0 C802.7,10.0 763.3,15.0 750.0,20.0Z"/></clipPath><g filter="url(#bl3)" opacity="0.7"><g clip-path="url(#cc11)"><path transform="translate(2.5,1.5)" d="M750.0,20.0 C736.7,25.0 749.0,32.3 750.0,40.0 C751.0,47.7 752.3,59.3 756.0,66.0 C759.7,72.7 765.5,76.3 772.0,80.0 C778.5,83.7 787.8,86.8 795.0,88.0 C802.2,89.2 807.5,88.7 815.0,87.0 C822.5,85.3 831.3,81.3 840.0,78.0 C848.7,74.7 858.7,70.0 867.0,67.0 C875.3,64.0 884.0,62.8 890.0,60.0 C896.0,57.2 899.7,53.7 903.0,50.0 C906.3,46.3 908.2,43.0 910.0,38.0 C911.8,33.0 927.3,24.7 914.0,20.0 C900.7,15.3 857.3,10.0 830.0,10.0 C802.7,10.0 763.3,15.0 750.0,20.0Z" fill="none" stroke="#7e3a72" stroke-width="12"/></g></g><clipPath id="cc12"><path d="M1030.0,190.0 C1025.8,169.3 1014.3,200.2 1005.0,206.0 C995.7,211.8 983.2,217.2 974.0,225.0 C964.8,232.8 956.7,243.0 950.0,253.0 C943.3,263.0 937.2,274.2 934.0,285.0 C930.8,295.8 931.3,310.5 931.0,318.0 C930.7,325.5 915.5,328.0 932.0,330.0 C948.5,332.0 1013.7,353.3 1030.0,330.0 C1046.3,306.7 1034.2,210.7 1030.0,190.0Z"/></clipPath><g filter="url(#bl3)" opacity="0.7"><g clip-path="url(#cc12)"><path transform="translate(2.5,1.5)" d="M1030.0,190.0 C1025.8,169.3 1014.3,200.2 1005.0,206.0 C995.7,211.8 983.2,217.2 974.0,225.0 C964.8,232.8 956.7,243.0 950.0,253.0 C943.3,263.0 937.2,274.2 934.0,285.0 C930.8,295.8 931.3,310.5 931.0,318.0 C930.7,325.5 915.5,328.0 932.0,330.0 C948.5,332.0 1013.7,353.3 1030.0,330.0 C1046.3,306.7 1034.2,210.7 1030.0,190.0Z" fill="none" stroke="#7e3a72" stroke-width="12"/></g></g><clipPath id="cc13"><path d="M720.0,30.0 C724.7,23.8 743.2,33.0 748.0,38.0 C752.8,43.0 749.7,53.8 749.0,60.0 C748.3,66.2 748.8,72.5 744.0,75.0 C739.2,77.5 724.0,82.5 720.0,75.0 C716.0,67.5 715.3,36.2 720.0,30.0Z"/></clipPath><g filter="url(#bl3)" opacity="0.7"><g clip-path="url(#cc13)"><path transform="translate(2.5,1.5)" d="M720.0,30.0 C724.7,23.8 743.2,33.0 748.0,38.0 C752.8,43.0 749.7,53.8 749.0,60.0 C748.3,66.2 748.8,72.5 744.0,75.0 C739.2,77.5 724.0,82.5 720.0,75.0 C716.0,67.5 715.3,36.2 720.0,30.0Z" fill="none" stroke="#7e3a72" stroke-width="12"/></g></g><g filter="url(#bl3)"><ellipse cx="864" cy="151" rx="32" ry="33" fill="#70287a"/><ellipse cx="875" cy="150" rx="33" ry="29" fill="none" stroke="#8a3a82" stroke-width="3" opacity="0.6"/><ellipse cx="866" cy="118" rx="19" ry="7" fill="#4a1866"/><ellipse cx="869" cy="154.5" rx="26" ry="25.5" fill="#e9a898"/><ellipse cx="852" cy="160" rx="9" ry="16" fill="#f4947a" opacity="0.5"/><ellipse cx="922" cy="200" rx="23" ry="21" fill="#74287c"/><ellipse cx="926.5" cy="201" rx="18.5" ry="16" fill="#ee9c86"/><ellipse cx="919" cy="203" rx="8" ry="11" fill="#f8886a" opacity="0.45"/></g></g><rect x="743.5" y="38" width="264.5" height="282" fill="none" stroke="#ff0000" stroke-width="4"/><text x="751.36" y="278" font-size="20" font-weight="normal" font-style="normal" fill="#111" textLength="46.86" lengthAdjust="spacingAndGlyphs">2 µm</text><path d="M755.7,284V309M799.4,284V309M755.7,294.8H799.4" stroke="#222" stroke-width="1.6" fill="none"/>
<text x="301.70" y="444.1" font-size="28" font-weight="bold" font-style="italic" fill="#000" textLength="134.74" lengthAdjust="spacingAndGlyphs">NF54 strain</text>
<text x="314.00" y="739.1" font-size="28" font-weight="bold" font-style="italic" fill="#000" textLength="121.26" lengthAdjust="spacingAndGlyphs">3D7 strain</text>
<text transform="translate(41.4,806.3) rotate(-90)" x="-1.97" y="0" font-size="29.4" font-weight="bold" font-style="normal" fill="#000" textLength="215.36" lengthAdjust="spacingAndGlyphs">Parasitemia (%)</text>
<text x="237.40" y="1035.8" font-size="31.2" font-weight="bold" font-style="normal" fill="#000" textLength="311.20" lengthAdjust="spacingAndGlyphs">Log concentration (<tspan font-family="Liberation Serif" font-weight="normal">µ</tspan>M)</text>
<path d="M82.2,465.7V676.5H360.7" fill="none" stroke="#000" stroke-width="2.2"/><path d="M76.2,676.5H82.2" stroke="#000" stroke-width="2.2"/><text x="74.2" y="684.5" font-size="22" font-weight="bold" font-style="normal" fill="#000" text-anchor="end" >0</text><path d="M76.2,623.8H82.2" stroke="#000" stroke-width="2.2"/><text x="74.2" y="631.8" font-size="22" font-weight="bold" font-style="normal" fill="#000" text-anchor="end" >1</text><path d="M76.2,571.1H82.2" stroke="#000" stroke-width="2.2"/><text x="74.2" y="579.1" font-size="22" font-weight="bold" font-style="normal" fill="#000" text-anchor="end" >2</text><path d="M76.2,518.4H82.2" stroke="#000" stroke-width="2.2"/><text x="74.2" y="526.4" font-size="22" font-weight="bold" font-style="normal" fill="#000" text-anchor="end" >3</text><path d="M76.2,465.7H82.2" stroke="#000" stroke-width="2.2"/><text x="74.2" y="473.7" font-size="22" font-weight="bold" font-style="normal" fill="#000" text-anchor="end" >4</text><path d="M82.2,676.5V682.5" stroke="#000" stroke-width="2.2"/><text x="82.2" y="707.5" font-size="22" font-weight="bold" font-style="normal" fill="#000" text-anchor="middle" >-3</text><path d="M137.9,676.5V682.5" stroke="#000" stroke-width="2.2"/><text x="137.9" y="707.5" font-size="22" font-weight="bold" font-style="normal" fill="#000" text-anchor="middle" >-2</text><path d="M193.60000000000002,676.5V682.5" stroke="#000" stroke-width="2.2"/><text x="193.60000000000002" y="707.5" font-size="22" font-weight="bold" font-style="normal" fill="#000" text-anchor="middle" >-1</text><path d="M249.3,676.5V682.5" stroke="#000" stroke-width="2.2"/><text x="249.3" y="707.5" font-size="22" font-weight="bold" font-style="normal" fill="#000" text-anchor="middle" >0</text><path d="M305.0,676.5V682.5" stroke="#000" stroke-width="2.2"/><text x="305.0" y="707.5" font-size="22" font-weight="bold" font-style="normal" fill="#000" text-anchor="middle" >1</text><path d="M360.7,676.5V682.5" stroke="#000" stroke-width="2.2"/><text x="360.7" y="707.5" font-size="22" font-weight="bold" font-style="normal" fill="#000" text-anchor="middle" >2</text>
<path d="M406.2,467.40000000000003V678.2H685.0" fill="none" stroke="#000" stroke-width="2.2"/><path d="M400.2,678.2H406.2" stroke="#000" stroke-width="2.2"/><text x="398.2" y="686.2" font-size="22" font-weight="bold" font-style="normal" fill="#000" text-anchor="end" >0</text><path d="M400.2,625.5H406.2" stroke="#000" stroke-width="2.2"/><text x="398.2" y="633.5" font-size="22" font-weight="bold" font-style="normal" fill="#000" text-anchor="end" >1</text><path d="M400.2,572.8000000000001H406.2" stroke="#000" stroke-width="2.2"/><text x="398.2" y="580.8000000000001" font-size="22" font-weight="bold" font-style="normal" fill="#000" text-anchor="end" >2</text><path d="M400.2,520.1H406.2" stroke="#000" stroke-width="2.2"/><text x="398.2" y="528.1" font-size="22" font-weight="bold" font-style="normal" fill="#000" text-anchor="end" >3</text><path d="M400.2,467.40000000000003H406.2" stroke="#000" stroke-width="2.2"/><text x="398.2" y="475.40000000000003" font-size="22" font-weight="bold" font-style="normal" fill="#000" text-anchor="end" >4</text><path d="M406.2,678.2V684.2" stroke="#000" stroke-width="2.2"/><text x="406.2" y="709.2" font-size="22" font-weight="bold" font-style="normal" fill="#000" text-anchor="middle" >-4</text><path d="M475.9,678.2V684.2" stroke="#000" stroke-width="2.2"/><text x="475.9" y="709.2" font-size="22" font-weight="bold" font-style="normal" fill="#000" text-anchor="middle" >-3</text><path d="M545.6,678.2V684.2" stroke="#000" stroke-width="2.2"/><text x="545.6" y="709.2" font-size="22" font-weight="bold" font-style="normal" fill="#000" text-anchor="middle" >-2</text><path d="M615.3,678.2V684.2" stroke="#000" stroke-width="2.2"/><text x="615.3" y="709.2" font-size="22" font-weight="bold" font-style="normal" fill="#000" text-anchor="middle" >-1</text><path d="M685.0,678.2V684.2" stroke="#000" stroke-width="2.2"/><text x="685.0" y="709.2" font-size="22" font-weight="bold" font-style="normal" fill="#000" text-anchor="middle" >0</text>
<path d="M82,755.7V966.5H360.5" fill="none" stroke="#000" stroke-width="2.2"/><path d="M76,966.5H82" stroke="#000" stroke-width="2.2"/><text x="74" y="974.5" font-size="22" font-weight="bold" font-style="normal" fill="#000" text-anchor="end" >0</text><path d="M76,913.8H82" stroke="#000" stroke-width="2.2"/><text x="74" y="921.8" font-size="22" font-weight="bold" font-style="normal" fill="#000" text-anchor="end" >1</text><path d="M76,861.1H82" stroke="#000" stroke-width="2.2"/><text x="74" y="869.1" font-size="22" font-weight="bold" font-style="normal" fill="#000" text-anchor="end" >2</text><path d="M76,808.4H82" stroke="#000" stroke-width="2.2"/><text x="74" y="816.4" font-size="22" font-weight="bold" font-style="normal" fill="#000" text-anchor="end" >3</text><path d="M76,755.7H82" stroke="#000" stroke-width="2.2"/><text x="74" y="763.7" font-size="22" font-weight="bold" font-style="normal" fill="#000" text-anchor="end" >4</text><path d="M82.0,966.5V972.5" stroke="#000" stroke-width="2.2"/><text x="82.0" y="997.5" font-size="22" font-weight="bold" font-style="normal" fill="#000" text-anchor="middle" >-3</text><path d="M137.7,966.5V972.5" stroke="#000" stroke-width="2.2"/><text x="137.7" y="997.5" font-size="22" font-weight="bold" font-style="normal" fill="#000" text-anchor="middle" >-2</text><path d="M193.4,966.5V972.5" stroke="#000" stroke-width="2.2"/><text x="193.4" y="997.5" font-size="22" font-weight="bold" font-style="normal" fill="#000" text-anchor="middle" >-1</text><path d="M249.10000000000002,966.5V972.5" stroke="#000" stroke-width="2.2"/><text x="249.10000000000002" y="997.5" font-size="22" font-weight="bold" font-style="normal" fill="#000" text-anchor="middle" >0</text><path d="M304.8,966.5V972.5" stroke="#000" stroke-width="2.2"/><text x="304.8" y="997.5" font-size="22" font-weight="bold" font-style="normal" fill="#000" text-anchor="middle" >1</text><path d="M360.5,966.5V972.5" stroke="#000" stroke-width="2.2"/><text x="360.5" y="997.5" font-size="22" font-weight="bold" font-style="normal" fill="#000" text-anchor="middle" >2</text>
<path d="M406.7,755.7V966.5H685.5" fill="none" stroke="#000" stroke-width="2.2"/><path d="M400.7,966.5H406.7" stroke="#000" stroke-width="2.2"/><text x="398.7" y="974.5" font-size="22" font-weight="bold" font-style="normal" fill="#000" text-anchor="end" >0</text><path d="M400.7,913.8H406.7" stroke="#000" stroke-width="2.2"/><text x="398.7" y="921.8" font-size="22" font-weight="bold" font-style="normal" fill="#000" text-anchor="end" >1</text><path d="M400.7,861.1H406.7" stroke="#000" stroke-width="2.2"/><text x="398.7" y="869.1" font-size="22" font-weight="bold" font-style="normal" fill="#000" text-anchor="end" >2</text><path d="M400.7,808.4H406.7" stroke="#000" stroke-width="2.2"/><text x="398.7" y="816.4" font-size="22" font-weight="bold" font-style="normal" fill="#000" text-anchor="end" >3</text><path d="M400.7,755.7H406.7" stroke="#000" stroke-width="2.2"/><text x="398.7" y="763.7" font-size="22" font-weight="bold" font-style="normal" fill="#000" text-anchor="end" >4</text><path d="M406.7,966.5V972.5" stroke="#000" stroke-width="2.2"/><text x="406.7" y="997.5" font-size="22" font-weight="bold" font-style="normal" fill="#000" text-anchor="middle" >-4</text><path d="M476.4,966.5V972.5" stroke="#000" stroke-width="2.2"/><text x="476.4" y="997.5" font-size="22" font-weight="bold" font-style="normal" fill="#000" text-anchor="middle" >-3</text><path d="M546.1,966.5V972.5" stroke="#000" stroke-width="2.2"/><text x="546.1" y="997.5" font-size="22" font-weight="bold" font-style="normal" fill="#000" text-anchor="middle" >-2</text><path d="M615.8,966.5V972.5" stroke="#000" stroke-width="2.2"/><text x="615.8" y="997.5" font-size="22" font-weight="bold" font-style="normal" fill="#000" text-anchor="middle" >-1</text><path d="M685.5,966.5V972.5" stroke="#000" stroke-width="2.2"/><text x="685.5" y="997.5" font-size="22" font-weight="bold" font-style="normal" fill="#000" text-anchor="middle" >0</text>
<path d="M137.90,493.11 L138.82,493.11 L139.74,493.11 L140.66,493.11 L141.58,493.11 L142.50,493.11 L143.41,493.11 L144.33,493.11 L145.25,493.11 L146.17,493.11 L147.09,493.11 L148.01,493.11 L148.93,493.11 L149.85,493.11 L150.77,493.11 L151.69,493.12 L152.60,493.12 L153.52,493.12 L154.44,493.12 L155.36,493.12 L156.28,493.12 L157.20,493.12 L158.12,493.12 L159.04,493.13 L159.96,493.13 L160.88,493.13 L161.80,493.13 L162.71,493.14 L163.63,493.14 L164.55,493.14 L165.47,493.15 L166.39,493.15 L167.31,493.15 L168.23,493.16 L169.15,493.16 L170.07,493.17 L170.99,493.17 L171.90,493.18 L172.82,493.19 L173.74,493.19 L174.66,493.20 L175.58,493.21 L176.50,493.22 L177.42,493.23 L178.34,493.24 L179.26,493.26 L180.18,493.27 L181.10,493.29 L182.01,493.30 L182.93,493.32 L183.85,493.34 L184.77,493.36 L185.69,493.39 L186.61,493.41 L187.53,493.44 L188.45,493.47 L189.37,493.51 L190.29,493.54 L191.20,493.58 L192.12,493.63 L193.04,493.67 L193.96,493.73 L194.88,493.78 L195.80,493.84 L196.72,493.91 L197.64,493.99 L198.56,494.07 L199.48,494.15 L200.40,494.25 L201.31,494.35 L202.23,494.47 L203.15,494.59 L204.07,494.73 L204.99,494.87 L205.91,495.03 L206.83,495.21 L207.75,495.40 L208.67,495.61 L209.59,495.83 L210.50,496.08 L211.42,496.35 L212.34,496.64 L213.26,496.96 L214.18,497.30 L215.10,497.68 L216.02,498.08 L216.94,498.53 L217.86,499.01 L218.78,499.53 L219.70,500.09 L220.61,500.71 L221.53,501.37 L222.45,502.09 L223.37,502.87 L224.29,503.71 L225.21,504.62 L226.13,505.60 L227.05,506.66 L227.97,507.80 L228.89,509.03 L229.81,510.35 L230.72,511.76 L231.64,513.28 L232.56,514.90 L233.48,516.63 L234.40,518.48 L235.32,520.45 L236.24,522.54 L237.16,524.76 L238.08,527.10 L239.00,529.57 L239.91,532.18 L240.83,534.91 L241.75,537.78 L242.67,540.77 L243.59,543.89 L244.51,547.12 L245.43,550.46 L246.35,553.91 L247.27,557.46 L248.19,561.09 L249.11,564.79 L250.02,568.56 L250.94,572.37 L251.86,576.22 L252.78,580.09 L253.70,583.96 L254.62,587.82 L255.54,591.66 L256.46,595.46 L257.38,599.20 L258.30,602.89 L259.21,606.49 L260.13,610.00 L261.05,613.42 L261.97,616.73 L262.89,619.92 L263.81,622.99 L264.73,625.94 L265.65,628.77 L266.57,631.46 L267.49,634.02 L268.41,636.45 L269.32,638.75 L270.24,640.92 L271.16,642.97 L272.08,644.90 L273.00,646.71 L273.92,648.41 L274.84,649.99 L275.76,651.47 L276.68,652.85 L277.60,654.14 L278.51,655.34 L279.43,656.45 L280.35,657.48 L281.27,658.44 L282.19,659.33 L283.11,660.15 L284.03,660.91 L284.95,661.61 L285.87,662.26 L286.79,662.85 L287.71,663.40 L288.62,663.91 L289.54,664.38 L290.46,664.81 L291.38,665.21 L292.30,665.57 L293.22,665.91 L294.14,666.21 L295.06,666.50 L295.98,666.76 L296.90,667.00 L297.81,667.22 L298.73,667.42 L299.65,667.60 L300.57,667.77 L301.49,667.93 L302.41,668.07 L303.33,668.20 L304.25,668.33 L305.17,668.44 L306.09,668.54 L307.01,668.63 L307.92,668.71 L308.84,668.79 L309.76,668.86 L310.68,668.93 L311.60,668.99 L312.52,669.05 L313.44,669.10 L314.36,669.14 L315.28,669.18 L316.20,669.22 L317.11,669.26 L318.03,669.29 L318.95,669.32 L319.87,669.35 L320.79,669.37 L321.71,669.40" fill="none" stroke="#0000ff" stroke-width="1.6"/><circle cx="137.9" cy="478.9" r="4.8" fill="#0000ff"/><circle cx="154.6" cy="483.1" r="4.8" fill="#0000ff"/><circle cx="171.3" cy="501.0" r="4.8" fill="#0000ff"/><circle cx="188.0" cy="498.4" r="4.8" fill="#0000ff"/><circle cx="204.7" cy="503.6" r="4.8" fill="#0000ff"/><circle cx="221.4" cy="507.9" r="4.8" fill="#0000ff"/><circle cx="238.2" cy="531.0" r="4.8" fill="#0000ff"/><circle cx="254.9" cy="580.1" r="4.8" fill="#0000ff"/><circle cx="271.6" cy="652.8" r="4.8" fill="#0000ff"/><circle cx="288.3" cy="663.3" r="4.8" fill="#0000ff"/><circle cx="305.0" cy="666.5" r="4.8" fill="#0000ff"/><circle cx="321.7" cy="666.5" r="4.8" fill="#0000ff"/><path d="M154.6,491.0V473.6M150.1,491.0h9M150.1,473.6h9" stroke="#0000ff" stroke-width="1.6" fill="none"/><path d="M188.0,504.2V491.0M183.5,504.2h9M183.5,491.0h9" stroke="#0000ff" stroke-width="1.6" fill="none"/><path d="M204.7,511.0V496.8M200.2,511.0h9M200.2,496.8h9" stroke="#0000ff" stroke-width="1.6" fill="none"/><path d="M238.2,536.3V524.7M233.7,536.3h9M233.7,524.7h9" stroke="#0000ff" stroke-width="1.6" fill="none"/><path d="M254.9,589.0V570.6M250.4,589.0h9M250.4,570.6h9" stroke="#0000ff" stroke-width="1.6" fill="none"/>
<path d="M434.08,486.91 L435.23,486.91 L436.38,486.91 L437.53,486.91 L438.68,486.91 L439.83,486.92 L440.98,486.92 L442.13,486.92 L443.28,486.93 L444.43,486.94 L445.58,486.95 L446.73,486.96 L447.88,486.97 L449.03,486.98 L450.18,487.00 L451.33,487.02 L452.48,487.05 L453.63,487.08 L454.78,487.12 L455.93,487.17 L457.08,487.23 L458.23,487.30 L459.38,487.39 L460.53,487.50 L461.68,487.63 L462.83,487.79 L463.98,487.98 L465.13,488.22 L466.28,488.50 L467.43,488.85 L468.58,489.27 L469.73,489.77 L470.88,490.39 L472.03,491.14 L473.18,492.03 L474.33,493.12 L475.48,494.42 L476.63,495.98 L477.78,497.84 L478.93,500.05 L480.08,502.67 L481.23,505.75 L482.38,509.35 L483.53,513.53 L484.68,518.32 L485.83,523.77 L486.98,529.88 L488.13,536.65 L489.28,544.05 L490.43,551.98 L491.58,560.35 L492.73,569.02 L493.88,577.83 L495.03,586.61 L496.18,595.18 L497.33,603.41 L498.48,611.16 L499.63,618.33 L500.78,624.87 L501.93,630.74 L503.08,635.95 L504.23,640.51 L505.38,644.47 L506.53,647.88 L507.68,650.78 L508.83,653.25 L509.98,655.33 L511.13,657.07 L512.28,658.53 L513.43,659.75 L514.58,660.76 L515.73,661.60 L516.88,662.30 L518.03,662.87 L519.18,663.35 L520.33,663.74 L521.48,664.06 L522.63,664.33 L523.78,664.54 L524.93,664.72 L526.08,664.87 L527.23,664.99 L528.38,665.09 L529.53,665.18 L530.68,665.24 L531.83,665.30 L532.98,665.34 L534.13,665.38 L535.28,665.41 L536.43,665.44 L537.58,665.46 L538.73,665.47 L539.88,665.49 L541.03,665.50 L542.18,665.51 L543.33,665.52 L544.48,665.52 L545.63,665.53 L546.78,665.53 L547.93,665.54 L549.09,665.54 L550.24,665.54 L551.39,665.54 L552.54,665.54 L553.69,665.55 L554.84,665.55 L555.99,665.55 L557.14,665.55 L558.29,665.55 L559.44,665.55 L560.59,665.55 L561.74,665.55 L562.89,665.55 L564.04,665.55 L565.19,665.55 L566.34,665.55 L567.49,665.55 L568.64,665.55 L569.79,665.55 L570.94,665.55 L572.09,665.55 L573.24,665.55 L574.39,665.55 L575.54,665.55 L576.69,665.55 L577.84,665.55 L578.99,665.55 L580.14,665.55 L581.29,665.55 L582.44,665.55 L583.59,665.55 L584.74,665.55 L585.89,665.55 L587.04,665.55 L588.19,665.55 L589.34,665.55 L590.49,665.55 L591.64,665.55 L592.79,665.55 L593.94,665.55 L595.09,665.55 L596.24,665.55 L597.39,665.55 L598.54,665.55 L599.69,665.55 L600.84,665.55 L601.99,665.55 L603.14,665.55 L604.29,665.55 L605.44,665.55 L606.59,665.55 L607.74,665.55 L608.89,665.55 L610.04,665.55 L611.19,665.55 L612.34,665.55 L613.49,665.55 L614.64,665.55 L615.79,665.55 L616.94,665.55 L618.09,665.55 L619.24,665.55 L620.39,665.55 L621.54,665.55 L622.69,665.55 L623.84,665.55 L624.99,665.55 L626.14,665.55 L627.29,665.55 L628.44,665.55 L629.59,665.55 L630.74,665.55 L631.89,665.55 L633.04,665.55 L634.19,665.55 L635.34,665.55 L636.49,665.55 L637.64,665.55 L638.79,665.55 L639.94,665.55 L641.09,665.55 L642.24,665.55 L643.39,665.55 L644.54,665.55 L645.69,665.55 L646.84,665.55 L647.99,665.55 L649.14,665.55 L650.29,665.55 L651.44,665.55 L652.59,665.55 L653.74,665.55 L654.89,665.55 L656.04,665.55 L657.19,665.55 L658.34,665.55 L659.49,665.55 L660.64,665.55 L661.79,665.55 L662.94,665.55 L664.09,665.55" fill="none" stroke="#ff0000" stroke-width="1.6"/><circle cx="434.1" cy="481.1" r="4.8" fill="#ff0000"/><circle cx="455.0" cy="491.1" r="4.8" fill="#ff0000"/><circle cx="475.9" cy="500.6" r="4.8" fill="#ff0000"/><circle cx="496.8" cy="593.4" r="4.8" fill="#ff0000"/><circle cx="517.7" cy="672.4" r="4.8" fill="#ff0000"/><circle cx="538.6" cy="672.4" r="4.8" fill="#ff0000"/><circle cx="559.5" cy="669.0" r="4.8" fill="#ff0000"/><circle cx="580.5" cy="662.4" r="4.8" fill="#ff0000"/><circle cx="601.4" cy="660.8" r="4.8" fill="#ff0000"/><circle cx="622.3" cy="659.8" r="4.8" fill="#ff0000"/><circle cx="643.2" cy="660.8" r="4.8" fill="#ff0000"/><circle cx="664.1" cy="663.4" r="4.8" fill="#ff0000"/><path d="M434.1,488.0V473.2M429.6,488.0h9M429.6,473.2h9" stroke="#ff0000" stroke-width="1.6" fill="none"/><path d="M475.9,508.5V492.2M471.4,508.5h9M471.4,492.2h9" stroke="#ff0000" stroke-width="1.6" fill="none"/><path d="M496.8,609.2V577.5M492.3,609.2h9M492.3,577.5h9" stroke="#ff0000" stroke-width="1.6" fill="none"/>
<path d="M137.70,777.90 L138.62,777.90 L139.54,777.91 L140.46,777.91 L141.38,777.92 L142.30,777.92 L143.21,777.93 L144.13,777.94 L145.05,777.94 L145.97,777.95 L146.89,777.96 L147.81,777.97 L148.73,777.98 L149.65,777.99 L150.57,778.00 L151.49,778.01 L152.40,778.03 L153.32,778.04 L154.24,778.06 L155.16,778.07 L156.08,778.09 L157.00,778.11 L157.92,778.13 L158.84,778.15 L159.76,778.17 L160.68,778.20 L161.60,778.22 L162.51,778.25 L163.43,778.28 L164.35,778.31 L165.27,778.35 L166.19,778.39 L167.11,778.43 L168.03,778.47 L168.95,778.51 L169.87,778.56 L170.79,778.62 L171.70,778.67 L172.62,778.73 L173.54,778.80 L174.46,778.87 L175.38,778.94 L176.30,779.02 L177.22,779.10 L178.14,779.20 L179.06,779.29 L179.98,779.40 L180.90,779.51 L181.81,779.63 L182.73,779.76 L183.65,779.90 L184.57,780.04 L185.49,780.20 L186.41,780.37 L187.33,780.55 L188.25,780.74 L189.17,780.95 L190.09,781.17 L191.00,781.41 L191.92,781.66 L192.84,781.93 L193.76,782.22 L194.68,782.53 L195.60,782.86 L196.52,783.21 L197.44,783.59 L198.36,783.99 L199.28,784.42 L200.20,784.88 L201.11,785.37 L202.03,785.88 L202.95,786.44 L203.87,787.03 L204.79,787.65 L205.71,788.32 L206.63,789.03 L207.55,789.78 L208.47,790.58 L209.39,791.43 L210.30,792.33 L211.22,793.29 L212.14,794.30 L213.06,795.37 L213.98,796.50 L214.90,797.69 L215.82,798.95 L216.74,800.28 L217.66,801.67 L218.58,803.14 L219.50,804.69 L220.41,806.30 L221.33,808.00 L222.25,809.77 L223.17,811.62 L224.09,813.56 L225.01,815.57 L225.93,817.66 L226.85,819.83 L227.77,822.08 L228.69,824.40 L229.60,826.80 L230.52,829.27 L231.44,831.81 L232.36,834.42 L233.28,837.08 L234.20,839.80 L235.12,842.58 L236.04,845.40 L236.96,848.26 L237.88,851.16 L238.80,854.08 L239.71,857.03 L240.63,859.99 L241.55,862.95 L242.47,865.91 L243.39,868.87 L244.31,871.81 L245.23,874.73 L246.15,877.62 L247.07,880.48 L247.99,883.29 L248.91,886.06 L249.82,888.77 L250.74,891.43 L251.66,894.02 L252.58,896.55 L253.50,899.00 L254.42,901.39 L255.34,903.70 L256.26,905.93 L257.18,908.09 L258.10,910.17 L259.01,912.16 L259.93,914.08 L260.85,915.92 L261.77,917.68 L262.69,919.36 L263.61,920.96 L264.53,922.49 L265.45,923.95 L266.37,925.33 L267.29,926.64 L268.21,927.89 L269.12,929.07 L270.04,930.19 L270.96,931.25 L271.88,932.25 L272.80,933.19 L273.72,934.09 L274.64,934.93 L275.56,935.72 L276.48,936.46 L277.40,937.16 L278.31,937.82 L279.23,938.44 L280.15,939.03 L281.07,939.57 L281.99,940.09 L282.91,940.57 L283.83,941.02 L284.75,941.44 L285.67,941.84 L286.59,942.21 L287.51,942.56 L288.42,942.89 L289.34,943.19 L290.26,943.48 L291.18,943.75 L292.10,944.00 L293.02,944.23 L293.94,944.45 L294.86,944.65 L295.78,944.84 L296.70,945.02 L297.61,945.19 L298.53,945.35 L299.45,945.49 L300.37,945.63 L301.29,945.75 L302.21,945.87 L303.13,945.98 L304.05,946.09 L304.97,946.18 L305.89,946.27 L306.81,946.36 L307.72,946.44 L308.64,946.51 L309.56,946.58 L310.48,946.64 L311.40,946.70 L312.32,946.76 L313.24,946.81 L314.16,946.86 L315.08,946.90 L316.00,946.94 L316.91,946.98 L317.83,947.02 L318.75,947.05 L319.67,947.09 L320.59,947.12 L321.51,947.14" fill="none" stroke="#0000ff" stroke-width="1.6"/><circle cx="137.7" cy="782.6" r="4.8" fill="#0000ff"/><circle cx="154.4" cy="777.8" r="4.8" fill="#0000ff"/><circle cx="171.1" cy="771.5" r="4.8" fill="#0000ff"/><circle cx="187.8" cy="774.7" r="4.8" fill="#0000ff"/><circle cx="204.5" cy="788.9" r="4.8" fill="#0000ff"/><circle cx="221.2" cy="809.5" r="4.8" fill="#0000ff"/><circle cx="238.0" cy="851.6" r="4.8" fill="#0000ff"/><circle cx="254.7" cy="895.9" r="4.8" fill="#0000ff"/><circle cx="271.4" cy="944.4" r="4.8" fill="#0000ff"/><circle cx="288.1" cy="942.5" r="4.8" fill="#0000ff"/><circle cx="304.8" cy="943.8" r="4.8" fill="#0000ff"/><circle cx="321.5" cy="945.9" r="4.8" fill="#0000ff"/><path d="M137.7,793.1V772.6M133.2,793.1h9M133.2,772.6h9" stroke="#0000ff" stroke-width="1.6" fill="none"/><path d="M171.1,787.3V756.8M166.6,787.3h9M166.6,756.8h9" stroke="#0000ff" stroke-width="1.6" fill="none"/><path d="M187.8,791.5V758.9M183.3,791.5h9M183.3,758.9h9" stroke="#0000ff" stroke-width="1.6" fill="none"/><path d="M238.0,867.4V834.8M233.5,867.4h9M233.5,834.8h9" stroke="#0000ff" stroke-width="1.6" fill="none"/>
<path d="M434.58,782.05 L435.73,782.05 L436.88,782.05 L438.03,782.05 L439.18,782.05 L440.33,782.05 L441.48,782.05 L442.63,782.05 L443.78,782.05 L444.93,782.05 L446.08,782.05 L447.23,782.05 L448.38,782.05 L449.53,782.05 L450.68,782.06 L451.83,782.06 L452.98,782.06 L454.13,782.07 L455.28,782.07 L456.43,782.08 L457.58,782.10 L458.73,782.12 L459.88,782.15 L461.03,782.19 L462.18,782.25 L463.33,782.34 L464.48,782.48 L465.63,782.66 L466.78,782.94 L467.93,783.33 L469.08,783.89 L470.23,784.70 L471.38,785.86 L472.53,787.50 L473.68,789.81 L474.83,793.05 L475.98,797.51 L477.13,803.52 L478.28,811.43 L479.43,821.48 L480.58,833.71 L481.73,847.80 L482.88,863.11 L484.03,878.66 L485.18,893.45 L486.33,906.65 L487.48,917.76 L488.63,926.69 L489.78,933.59 L490.93,938.76 L492.08,942.54 L493.23,945.27 L494.38,947.21 L495.53,948.58 L496.68,949.55 L497.83,950.22 L498.98,950.68 L500.13,951.01 L501.28,951.24 L502.43,951.39 L503.58,951.50 L504.73,951.58 L505.88,951.63 L507.03,951.66 L508.18,951.69 L509.33,951.71 L510.48,951.72 L511.63,951.73 L512.78,951.73 L513.93,951.74 L515.08,951.74 L516.23,951.74 L517.38,951.74 L518.53,951.74 L519.68,951.74 L520.83,951.74 L521.98,951.74 L523.13,951.74 L524.28,951.74 L525.43,951.74 L526.58,951.74 L527.73,951.74 L528.88,951.74 L530.03,951.74 L531.18,951.74 L532.33,951.74 L533.48,951.74 L534.63,951.74 L535.78,951.74 L536.93,951.74 L538.08,951.74 L539.23,951.74 L540.38,951.74 L541.53,951.74 L542.68,951.74 L543.83,951.74 L544.98,951.74 L546.13,951.74 L547.28,951.74 L548.43,951.74 L549.59,951.74 L550.74,951.74 L551.89,951.74 L553.04,951.74 L554.19,951.74 L555.34,951.74 L556.49,951.74 L557.64,951.74 L558.79,951.74 L559.94,951.74 L561.09,951.74 L562.24,951.74 L563.39,951.74 L564.54,951.74 L565.69,951.74 L566.84,951.74 L567.99,951.74 L569.14,951.74 L570.29,951.74 L571.44,951.74 L572.59,951.74 L573.74,951.74 L574.89,951.74 L576.04,951.74 L577.19,951.74 L578.34,951.74 L579.49,951.74 L580.64,951.74 L581.79,951.74 L582.94,951.74 L584.09,951.74 L585.24,951.74 L586.39,951.74 L587.54,951.74 L588.69,951.74 L589.84,951.74 L590.99,951.74 L592.14,951.74 L593.29,951.74 L594.44,951.74 L595.59,951.74 L596.74,951.74 L597.89,951.74 L599.04,951.74 L600.19,951.74 L601.34,951.74 L602.49,951.74 L603.64,951.74 L604.79,951.74 L605.94,951.74 L607.09,951.74 L608.24,951.74 L609.39,951.74 L610.54,951.74 L611.69,951.74 L612.84,951.74 L613.99,951.74 L615.14,951.74 L616.29,951.74 L617.44,951.74 L618.59,951.74 L619.74,951.74 L620.89,951.74 L622.04,951.74 L623.19,951.74 L624.34,951.74 L625.49,951.74 L626.64,951.74 L627.79,951.74 L628.94,951.74 L630.09,951.74 L631.24,951.74 L632.39,951.74 L633.54,951.74 L634.69,951.74 L635.84,951.74 L636.99,951.74 L638.14,951.74 L639.29,951.74 L640.44,951.74 L641.59,951.74 L642.74,951.74 L643.89,951.74 L645.04,951.74 L646.19,951.74 L647.34,951.74 L648.49,951.74 L649.64,951.74 L650.79,951.74 L651.94,951.74 L653.09,951.74 L654.24,951.74 L655.39,951.74 L656.54,951.74 L657.69,951.74 L658.84,951.74 L659.99,951.74 L661.14,951.74 L662.29,951.74 L663.44,951.74 L664.59,951.74" fill="none" stroke="#ff0000" stroke-width="1.6"/><circle cx="434.6" cy="777.8" r="4.8" fill="#ff0000"/><circle cx="455.5" cy="787.3" r="4.8" fill="#ff0000"/><circle cx="476.4" cy="799.4" r="4.8" fill="#ff0000"/><circle cx="497.3" cy="948.1" r="4.8" fill="#ff0000"/><circle cx="518.2" cy="960.2" r="4.8" fill="#ff0000"/><circle cx="539.1" cy="959.4" r="4.8" fill="#ff0000"/><circle cx="560.0" cy="951.7" r="4.8" fill="#ff0000"/><circle cx="581.0" cy="942.5" r="4.8" fill="#ff0000"/><circle cx="601.9" cy="948.6" r="4.8" fill="#ff0000"/><circle cx="622.8" cy="949.1" r="4.8" fill="#ff0000"/><circle cx="643.7" cy="949.6" r="4.8" fill="#ff0000"/><circle cx="664.6" cy="951.7" r="4.8" fill="#ff0000"/><path d="M434.6,790.0V765.2M430.1,790.0h9M430.1,765.2h9" stroke="#ff0000" stroke-width="1.6" fill="none"/>
<text x="99.38" y="579.8" font-size="21.7" font-weight="normal" font-style="normal" fill="#0000ff" textLength="135.64" lengthAdjust="spacingAndGlyphs">IC50 = 1.17 <tspan font-family="Liberation Serif" font-weight="normal">µ</tspan>M</text>
<text x="514.80" y="577.1" font-size="21.7" font-weight="normal" font-style="normal" fill="#ff0000" textLength="123.16" lengthAdjust="spacingAndGlyphs">IC50 = 1.8 nM</text>
<text x="92.99" y="869.1" font-size="21.7" font-weight="normal" font-style="normal" fill="#0000ff" textLength="135.33" lengthAdjust="spacingAndGlyphs">IC50 = 0.73 <tspan font-family="Liberation Serif" font-weight="normal">µ</tspan>M</text>
<text x="500.30" y="864.8" font-size="21.7" font-weight="normal" font-style="normal" fill="#ff0000" textLength="134.00" lengthAdjust="spacingAndGlyphs">IC50 = 1.25 nM</text>
<text x="934.81" y="452.3" font-size="29" font-weight="bold" font-style="normal" fill="#000" textLength="412.77" lengthAdjust="spacingAndGlyphs">F32-TEM P. falciparum strain</text>
<text transform="translate(786.6,912.4) rotate(-90)" x="-2.00" y="0" font-size="30.6" font-weight="bold" font-style="normal" fill="#000" textLength="400.15" lengthAdjust="spacingAndGlyphs">Normalized parasitemia (%)</text>
<text x="971.06" y="1029.5" font-size="30" font-weight="bold" font-style="normal" fill="#000" textLength="338.93" lengthAdjust="spacingAndGlyphs">Log concentration (µM)</text>
<path d="M859.6,501.5V952.2" stroke="#000" stroke-width="3" fill="none"/>
<path d="M858.1,942.2H1425.1" stroke="#000" stroke-width="3" fill="none"/>
<path d="M849.6,910.3H859.6" stroke="#000" stroke-width="3"/>
<path d="M849.6,828.5H859.6" stroke="#000" stroke-width="3"/>
<path d="M849.6,746.8H859.6" stroke="#000" stroke-width="3"/>
<path d="M849.6,665.0H859.6" stroke="#000" stroke-width="3"/>
<path d="M849.6,583.3H859.6" stroke="#000" stroke-width="3"/>
<path d="M849.6,501.5H859.6" stroke="#000" stroke-width="3"/>
<text x="845.7" y="919.3" font-size="25" font-weight="bold" font-style="normal" fill="#000" text-anchor="end" >0</text>
<text x="845.7" y="755.8" font-size="25" font-weight="bold" font-style="normal" fill="#000" text-anchor="end" >50</text>
<text x="845.7" y="592.3" font-size="25" font-weight="bold" font-style="normal" fill="#000" text-anchor="end" >100</text>
<path d="M859.6,942.2V952.2" stroke="#000" stroke-width="3"/>
<text x="859.6" y="982.5" font-size="25" font-weight="bold" font-style="normal" fill="#000" text-anchor="middle" >-3</text>
<path d="M972.4,942.2V952.2" stroke="#000" stroke-width="3"/>
<text x="972.4" y="982.5" font-size="25" font-weight="bold" font-style="normal" fill="#000" text-anchor="middle" >-2</text>
<path d="M1085.2,942.2V952.2" stroke="#000" stroke-width="3"/>
<text x="1085.2" y="982.5" font-size="25" font-weight="bold" font-style="normal" fill="#000" text-anchor="middle" >-1</text>
<path d="M1198.0,942.2V952.2" stroke="#000" stroke-width="3"/>
<text x="1198.0" y="982.5" font-size="25" font-weight="bold" font-style="normal" fill="#000" text-anchor="middle" >0</text>
<path d="M1310.8,942.2V952.2" stroke="#000" stroke-width="3"/>
<text x="1310.8" y="982.5" font-size="25" font-weight="bold" font-style="normal" fill="#000" text-anchor="middle" >1</text>
<path d="M1423.6,942.2V952.2" stroke="#000" stroke-width="3"/>
<text x="1423.6" y="982.5" font-size="25" font-weight="bold" font-style="normal" fill="#000" text-anchor="middle" >2</text>
<path d="M972.4,537.5V561.0M967.4,537.5h10M967.4,561.0h10" stroke="#c0c0ff" stroke-width="1.6" fill="none"/>
<path d="M1006.2,572.0V607.0M1001.2,572.0h10M1001.2,607.0h10" stroke="#c0c0ff" stroke-width="1.6" fill="none"/>
<path d="M1040.1,582.0V601.0M1035.1,582.0h10M1035.1,601.0h10" stroke="#c0c0ff" stroke-width="1.6" fill="none"/>
<path d="M1107.8,664.6V673.0M1102.8,664.6h10M1102.8,673.0h10" stroke="#c0c0ff" stroke-width="1.6" fill="none"/>
<path d="M1141.6,720.0V735.0M1136.6,720.0h10M1136.6,735.0h10" stroke="#c0c0ff" stroke-width="1.6" fill="none"/>
<path d="M1175.4,747.0V793.5M1170.4,747.0h10M1170.4,793.5h10" stroke="#c0c0ff" stroke-width="1.6" fill="none"/>
<path d="M1209.3,806.7V824.6M1204.3,806.7h10M1204.3,824.6h10" stroke="#c0c0ff" stroke-width="1.6" fill="none"/>
<path d="M972.40,562.37 L974.73,562.87 L977.05,563.40 L979.38,563.94 L981.71,564.52 L984.03,565.12 L986.36,565.74 L988.69,566.39 L991.01,567.07 L993.34,567.78 L995.66,568.52 L997.99,569.29 L1000.32,570.10 L1002.64,570.94 L1004.97,571.81 L1007.30,572.72 L1009.62,573.67 L1011.95,574.65 L1014.28,575.68 L1016.60,576.75 L1018.93,577.86 L1021.26,579.02 L1023.58,580.22 L1025.91,581.47 L1028.24,582.77 L1030.56,584.12 L1032.89,585.52 L1035.22,586.97 L1037.54,588.48 L1039.87,590.04 L1042.19,591.66 L1044.52,593.33 L1046.85,595.07 L1049.17,596.87 L1051.50,598.73 L1053.83,600.65 L1056.15,602.63 L1058.48,604.68 L1060.81,606.80 L1063.13,608.98 L1065.46,611.23 L1067.79,613.55 L1070.11,615.94 L1072.44,618.39 L1074.77,620.92 L1077.09,623.51 L1079.42,626.17 L1081.75,628.90 L1084.07,631.70 L1086.40,634.56 L1088.72,637.49 L1091.05,640.49 L1093.38,643.55 L1095.70,646.68 L1098.03,649.87 L1100.36,653.12 L1102.68,656.42 L1105.01,659.78 L1107.34,663.20 L1109.66,666.67 L1111.99,670.18 L1114.32,673.74 L1116.64,677.35 L1118.97,680.99 L1121.30,684.67 L1123.62,688.38 L1125.95,692.12 L1128.28,695.88 L1130.60,699.67 L1132.93,703.47 L1135.26,707.28 L1137.58,711.11 L1139.91,714.94 L1142.23,718.76 L1144.56,722.59 L1146.89,726.41 L1149.21,730.21 L1151.54,734.00 L1153.87,737.77 L1156.19,741.52 L1158.52,745.23 L1160.85,748.92 L1163.17,752.57 L1165.50,756.18 L1167.83,759.75 L1170.15,763.28 L1172.48,766.75 L1174.81,770.18 L1177.13,773.55 L1179.46,776.87 L1181.79,780.13 L1184.11,783.33 L1186.44,786.47 L1188.76,789.55 L1191.09,792.56 L1193.42,795.51 L1195.74,798.39 L1198.07,801.20 L1200.40,803.94 L1202.72,806.62 L1205.05,809.23 L1207.38,811.76 L1209.70,814.23 L1212.03,816.63 L1214.36,818.97 L1216.68,821.23 L1219.01,823.43 L1221.34,825.56 L1223.66,827.62 L1225.99,829.62 L1228.32,831.56 L1230.64,833.43 L1232.97,835.24 L1235.29,836.99 L1237.62,838.68 L1239.95,840.31 L1242.27,841.88 L1244.60,843.40 L1246.93,844.87 L1249.25,846.28 L1251.58,847.64 L1253.91,848.95 L1256.23,850.21 L1258.56,851.42 L1260.89,852.58 L1263.21,853.71 L1265.54,854.78 L1267.87,855.82 L1270.19,856.81 L1272.52,857.77 L1274.85,858.69 L1277.17,859.57 L1279.50,860.42 L1281.82,861.23 L1284.15,862.01 L1286.48,862.75 L1288.80,863.47 L1291.13,864.15 L1293.46,864.81 L1295.78,865.44 L1298.11,866.05 L1300.44,866.62 L1302.76,867.18 L1305.09,867.71 L1307.42,868.22 L1309.74,868.70 L1312.07,869.17 L1314.40,869.61 L1316.72,870.04 L1319.05,870.45 L1321.38,870.84 L1323.70,871.21 L1326.03,871.57 L1328.35,871.91 L1330.68,872.24 L1333.01,872.55 L1335.33,872.85 L1337.66,873.13 L1339.99,873.41 L1342.31,873.67 L1344.64,873.92" fill="none" stroke="#9a9aff" stroke-width="2.2"/>
<path d="M972.4,541.3 L978.4,551.8 L966.4,551.8Z" fill="#c0c0ff"/>
<path d="M1006.2,585.1 L1012.2,595.6 L1000.2,595.6Z" fill="#c0c0ff"/>
<path d="M1040.1,586.5 L1046.1,597.0 L1034.1,597.0Z" fill="#c0c0ff"/>
<path d="M1073.9,608.7 L1079.9,619.2 L1067.9,619.2Z" fill="#c0c0ff"/>
<path d="M1107.8,663.6 L1113.8,674.1 L1101.8,674.1Z" fill="#c0c0ff"/>
<path d="M1141.6,721.5 L1147.6,732.0 L1135.6,732.0Z" fill="#c0c0ff"/>
<path d="M1175.4,765.7 L1181.4,776.2 L1169.4,776.2Z" fill="#c0c0ff"/>
<path d="M1209.3,810.8 L1215.3,821.3 L1203.3,821.3Z" fill="#c0c0ff"/>
<path d="M1243.1,828.1 L1249.1,838.6 L1237.1,838.6Z" fill="#c0c0ff"/>
<path d="M1277.0,844.8 L1283.0,855.3 L1271.0,855.3Z" fill="#c0c0ff"/>
<path d="M1310.8,865.1 L1316.8,875.6 L1304.8,875.6Z" fill="#c0c0ff"/>
<path d="M1344.6,868.3 L1350.6,878.8 L1338.6,878.8Z" fill="#c0c0ff"/>
<path d="M1006.2,541.0V582.0M1001.2,541.0h10M1001.2,582.0h10" stroke="#8c8cff" stroke-width="1.6" fill="none"/>
<path d="M1040.1,568.0V581.0M1035.1,568.0h10M1035.1,581.0h10" stroke="#8c8cff" stroke-width="1.6" fill="none"/>
<path d="M1073.9,582.0V627.0M1068.9,582.0h10M1068.9,627.0h10" stroke="#8c8cff" stroke-width="1.6" fill="none"/>
<path d="M1107.8,633.0V647.0M1102.8,633.0h10M1102.8,647.0h10" stroke="#8c8cff" stroke-width="1.6" fill="none"/>
<path d="M1175.4,711.5V742.0M1170.4,711.5h10M1170.4,742.0h10" stroke="#8c8cff" stroke-width="1.6" fill="none"/>
<path d="M1209.3,777.0V795.0M1204.3,777.0h10M1204.3,795.0h10" stroke="#8c8cff" stroke-width="1.6" fill="none"/>
<path d="M1277.0,823.4V844.6M1272.0,823.4h10M1272.0,844.6h10" stroke="#8c8cff" stroke-width="1.6" fill="none"/>
<path d="M1344.6,877.5V898.0M1339.6,877.5h10M1339.6,898.0h10" stroke="#8c8cff" stroke-width="1.6" fill="none"/>
<path d="M972.40,574.99 L974.73,575.22 L977.05,575.47 L979.38,575.73 L981.71,576.00 L984.03,576.28 L986.36,576.57 L988.69,576.88 L991.01,577.20 L993.34,577.53 L995.66,577.88 L997.99,578.25 L1000.32,578.63 L1002.64,579.03 L1004.97,579.45 L1007.30,579.88 L1009.62,580.34 L1011.95,580.81 L1014.28,581.30 L1016.60,581.82 L1018.93,582.36 L1021.26,582.92 L1023.58,583.50 L1025.91,584.11 L1028.24,584.75 L1030.56,585.41 L1032.89,586.11 L1035.22,586.83 L1037.54,587.58 L1039.87,588.36 L1042.19,589.17 L1044.52,590.02 L1046.85,590.90 L1049.17,591.82 L1051.50,592.78 L1053.83,593.77 L1056.15,594.81 L1058.48,595.88 L1060.81,597.00 L1063.13,598.15 L1065.46,599.36 L1067.79,600.61 L1070.11,601.91 L1072.44,603.25 L1074.77,604.65 L1077.09,606.09 L1079.42,607.59 L1081.75,609.14 L1084.07,610.75 L1086.40,612.41 L1088.72,614.13 L1091.05,615.91 L1093.38,617.74 L1095.70,619.64 L1098.03,621.59 L1100.36,623.61 L1102.68,625.69 L1105.01,627.84 L1107.34,630.04 L1109.66,632.31 L1111.99,634.65 L1114.32,637.05 L1116.64,639.52 L1118.97,642.04 L1121.30,644.64 L1123.62,647.30 L1125.95,650.02 L1128.28,652.80 L1130.60,655.65 L1132.93,658.56 L1135.26,661.53 L1137.58,664.56 L1139.91,667.64 L1142.23,670.78 L1144.56,673.97 L1146.89,677.22 L1149.21,680.51 L1151.54,683.86 L1153.87,687.24 L1156.19,690.67 L1158.52,694.14 L1160.85,697.64 L1163.17,701.17 L1165.50,704.74 L1167.83,708.33 L1170.15,711.94 L1172.48,715.57 L1174.81,719.22 L1177.13,722.88 L1179.46,726.54 L1181.79,730.21 L1184.11,733.88 L1186.44,737.54 L1188.76,741.20 L1191.09,744.84 L1193.42,748.47 L1195.74,752.08 L1198.07,755.67 L1200.40,759.23 L1202.72,762.76 L1205.05,766.26 L1207.38,769.72 L1209.70,773.15 L1212.03,776.53 L1214.36,779.87 L1216.68,783.16 L1219.01,786.39 L1221.34,789.58 L1223.66,792.72 L1225.99,795.79 L1228.32,798.82 L1230.64,801.78 L1232.97,804.68 L1235.29,807.52 L1237.62,810.30 L1239.95,813.01 L1242.27,815.66 L1244.60,818.25 L1246.93,820.77 L1249.25,823.23 L1251.58,825.62 L1253.91,827.95 L1256.23,830.22 L1258.56,832.42 L1260.89,834.55 L1263.21,836.63 L1265.54,838.64 L1267.87,840.59 L1270.19,842.48 L1272.52,844.31 L1274.85,846.08 L1277.17,847.79 L1279.50,849.44 L1281.82,851.04 L1284.15,852.59 L1286.48,854.08 L1288.80,855.52 L1291.13,856.91 L1293.46,858.25 L1295.78,859.54 L1298.11,860.79 L1300.44,861.99 L1302.76,863.14 L1305.09,864.25 L1307.42,865.32 L1309.74,866.35 L1312.07,867.34 L1314.40,868.29 L1316.72,869.21 L1319.05,870.08 L1321.38,870.93 L1323.70,871.74 L1326.03,872.52 L1328.35,873.27 L1330.68,873.98 L1333.01,874.67 L1335.33,875.33 L1337.66,875.97 L1339.99,876.57 L1342.31,877.16 L1344.64,877.71" fill="none" stroke="#5a5af0" stroke-width="2.2"/>
<rect x="967.4" y="593.3" width="10" height="10" fill="#8c8cff"/>
<rect x="1001.2" y="557.0" width="10" height="10" fill="#8c8cff"/>
<rect x="1035.1" y="569.8" width="10" height="10" fill="#8c8cff"/>
<rect x="1068.9" y="597.9" width="10" height="10" fill="#8c8cff"/>
<rect x="1102.8" y="634.5" width="10" height="10" fill="#8c8cff"/>
<rect x="1136.6" y="666.6" width="10" height="10" fill="#8c8cff"/>
<rect x="1170.4" y="721.2" width="10" height="10" fill="#8c8cff"/>
<rect x="1204.3" y="781.0" width="10" height="10" fill="#8c8cff"/>
<rect x="1238.1" y="799.4" width="10" height="10" fill="#8c8cff"/>
<rect x="1272.0" y="829.1" width="10" height="10" fill="#8c8cff"/>
<rect x="1305.8" y="872.6" width="10" height="10" fill="#8c8cff"/>
<rect x="1339.6" y="882.4" width="10" height="10" fill="#8c8cff"/>
<path d="M972.4,552.4V591.0M967.4,552.4h10M967.4,591.0h10" stroke="#0000ff" stroke-width="1.6" fill="none"/>
<path d="M1006.2,606.0V652.6M1001.2,606.0h10M1001.2,652.6h10" stroke="#0000ff" stroke-width="1.6" fill="none"/>
<path d="M1040.1,608.5V629.7M1035.1,608.5h10M1035.1,629.7h10" stroke="#0000ff" stroke-width="1.6" fill="none"/>
<path d="M1073.9,628.4V685.0M1068.9,628.4h10M1068.9,685.0h10" stroke="#0000ff" stroke-width="1.6" fill="none"/>
<path d="M1107.8,694.5V745.6M1102.8,694.5h10M1102.8,745.6h10" stroke="#0000ff" stroke-width="1.6" fill="none"/>
<path d="M1141.6,748.6V792.7M1136.6,748.6h10M1136.6,792.7h10" stroke="#0000ff" stroke-width="1.6" fill="none"/>
<path d="M972.40,585.57 L974.73,586.23 L977.05,586.92 L979.38,587.64 L981.71,588.40 L984.03,589.19 L986.36,590.02 L988.69,590.89 L991.01,591.80 L993.34,592.75 L995.66,593.74 L997.99,594.78 L1000.32,595.86 L1002.64,596.99 L1004.97,598.17 L1007.30,599.40 L1009.62,600.68 L1011.95,602.02 L1014.28,603.42 L1016.60,604.87 L1018.93,606.39 L1021.26,607.96 L1023.58,609.60 L1025.91,611.31 L1028.24,613.09 L1030.56,614.93 L1032.89,616.84 L1035.22,618.83 L1037.54,620.89 L1039.87,623.03 L1042.19,625.24 L1044.52,627.53 L1046.85,629.90 L1049.17,632.36 L1051.50,634.89 L1053.83,637.50 L1056.15,640.20 L1058.48,642.98 L1060.81,645.85 L1063.13,648.79 L1065.46,651.82 L1067.79,654.94 L1070.11,658.14 L1072.44,661.41 L1074.77,664.77 L1077.09,668.21 L1079.42,671.72 L1081.75,675.31 L1084.07,678.97 L1086.40,682.71 L1088.72,686.51 L1091.05,690.37 L1093.38,694.30 L1095.70,698.28 L1098.03,702.32 L1100.36,706.41 L1102.68,710.55 L1105.01,714.72 L1107.34,718.93 L1109.66,723.18 L1111.99,727.44 L1114.32,731.74 L1116.64,736.04 L1118.97,740.36 L1121.30,744.68 L1123.62,749.00 L1125.95,753.32 L1128.28,757.63 L1130.60,761.91 L1132.93,766.18 L1135.26,770.42 L1137.58,774.63 L1139.91,778.80 L1142.23,782.93 L1144.56,787.02 L1146.89,791.05 L1149.21,795.03 L1151.54,798.95 L1153.87,802.81 L1156.19,806.61 L1158.52,810.33 L1160.85,813.99 L1163.17,817.57 L1165.50,821.08 L1167.83,824.51 L1170.15,827.86 L1172.48,831.13 L1174.81,834.32 L1177.13,837.43 L1179.46,840.45 L1181.79,843.39 L1184.11,846.25 L1186.44,849.02 L1188.76,851.71 L1191.09,854.32 L1193.42,856.85 L1195.74,859.29 L1198.07,861.66 L1200.40,863.94 L1202.72,866.15 L1205.05,868.28 L1207.38,870.33 L1209.70,872.31 L1212.03,874.22 L1214.36,876.06 L1216.68,877.83 L1219.01,879.53 L1221.34,881.16 L1223.66,882.73 L1225.99,884.24 L1228.32,885.69 L1230.64,887.08 L1232.97,888.42 L1235.29,889.70 L1237.62,890.92 L1239.95,892.10 L1242.27,893.23 L1244.60,894.30 L1246.93,895.34 L1249.25,896.32 L1251.58,897.27 L1253.91,898.17 L1256.23,899.04 L1258.56,899.86 L1260.89,900.65 L1263.21,901.41 L1265.54,902.13 L1267.87,902.82 L1270.19,903.47 L1272.52,904.10 L1274.85,904.70 L1277.17,905.27 L1279.50,905.82 L1281.82,906.34 L1284.15,906.84 L1286.48,907.31 L1288.80,907.76 L1291.13,908.19 L1293.46,908.60 L1295.78,909.00 L1298.11,909.37 L1300.44,909.72 L1302.76,910.06 L1305.09,910.39 L1307.42,910.69 L1309.74,910.99 L1312.07,911.27 L1314.40,911.53 L1316.72,911.79 L1319.05,912.03 L1321.38,912.26 L1323.70,912.48 L1326.03,912.69 L1328.35,912.89 L1330.68,913.07 L1333.01,913.25 L1335.33,913.43 L1337.66,913.59 L1339.99,913.74 L1342.31,913.89 L1344.64,914.03" fill="none" stroke="#0000a0" stroke-width="2.2"/>
<circle cx="972.4" cy="571.9" r="5.5" fill="#0000ff"/>
<circle cx="1006.2" cy="629.7" r="5.5" fill="#0000ff"/>
<circle cx="1040.1" cy="619.6" r="5.5" fill="#0000ff"/>
<circle cx="1073.9" cy="656.5" r="5.5" fill="#0000ff"/>
<circle cx="1107.8" cy="720.0" r="5.5" fill="#0000ff"/>
<circle cx="1141.6" cy="771.0" r="5.5" fill="#0000ff"/>
<circle cx="1175.4" cy="850.1" r="5.5" fill="#0000ff"/>
<circle cx="1209.3" cy="875.6" r="5.5" fill="#0000ff"/>
<circle cx="1243.1" cy="896.2" r="5.5" fill="#0000ff"/>
<circle cx="1277.0" cy="904.9" r="5.5" fill="#0000ff"/>
<circle cx="1310.8" cy="906.4" r="5.5" fill="#0000ff"/>
<circle cx="1344.6" cy="906.4" r="5.5" fill="#0000ff"/>
<path d="M1127,523.9H1151" stroke="#0000dd" stroke-width="2.2"/><circle cx="1139" cy="523.9" r="5.7" fill="#0000ff"/>
<path d="M1127,555.4H1151" stroke="#6a6aff" stroke-width="2.2"/><rect x="1134" y="550.4" width="10" height="10" fill="#8c8cff"/>
<path d="M1127,586.8H1151" stroke="#9a9aff" stroke-width="2.2"/><path d="M1139,580 L1145,590 L1133,590Z" fill="#c0c0ff"/>
<text x="1163.13" y="530.8" font-size="18.3" font-weight="normal" font-style="normal" fill="#222" textLength="114.52" lengthAdjust="spacingAndGlyphs">Parental strain</text>
<text x="1163.15" y="561.6" font-size="18.3" font-weight="normal" font-style="normal" fill="#222" textLength="104.28" lengthAdjust="spacingAndGlyphs">5 drug pulses</text>
<text x="1163.15" y="592.5" font-size="18.3" font-weight="normal" font-style="normal" fill="#222" textLength="113.59" lengthAdjust="spacingAndGlyphs">10 drug pulses</text>
<rect x="861.5" y="812.5" width="198.3" height="129.7" fill="#fff" stroke="#000" stroke-width="2"/>
<path d="M859.6,501.5V952.2" stroke="#000" stroke-width="3" fill="none"/>
<path d="M858.1,942.2H1425.1" stroke="#000" stroke-width="3" fill="none"/>
<text x="932.26" y="840.3" font-size="21.7" font-weight="bold" font-style="normal" fill="#111" textLength="54.36" lengthAdjust="spacingAndGlyphs">IC50s</text>
<text x="865.27" y="870.7" font-size="21.2" font-weight="normal" font-style="normal" fill="#222" textLength="136.83" lengthAdjust="spacingAndGlyphs">P. S. = 0.2 µM</text>
<text x="865.25" y="900.5" font-size="21.2" font-weight="normal" font-style="normal" fill="#222" textLength="176.78" lengthAdjust="spacingAndGlyphs">5 pulses = 0.7 µM</text>
<text x="865.25" y="930.5" font-size="21.2" font-weight="normal" font-style="normal" fill="#222" textLength="188.54" lengthAdjust="spacingAndGlyphs">10 pulses = 0.3 µM</text>
</svg></body></html>
